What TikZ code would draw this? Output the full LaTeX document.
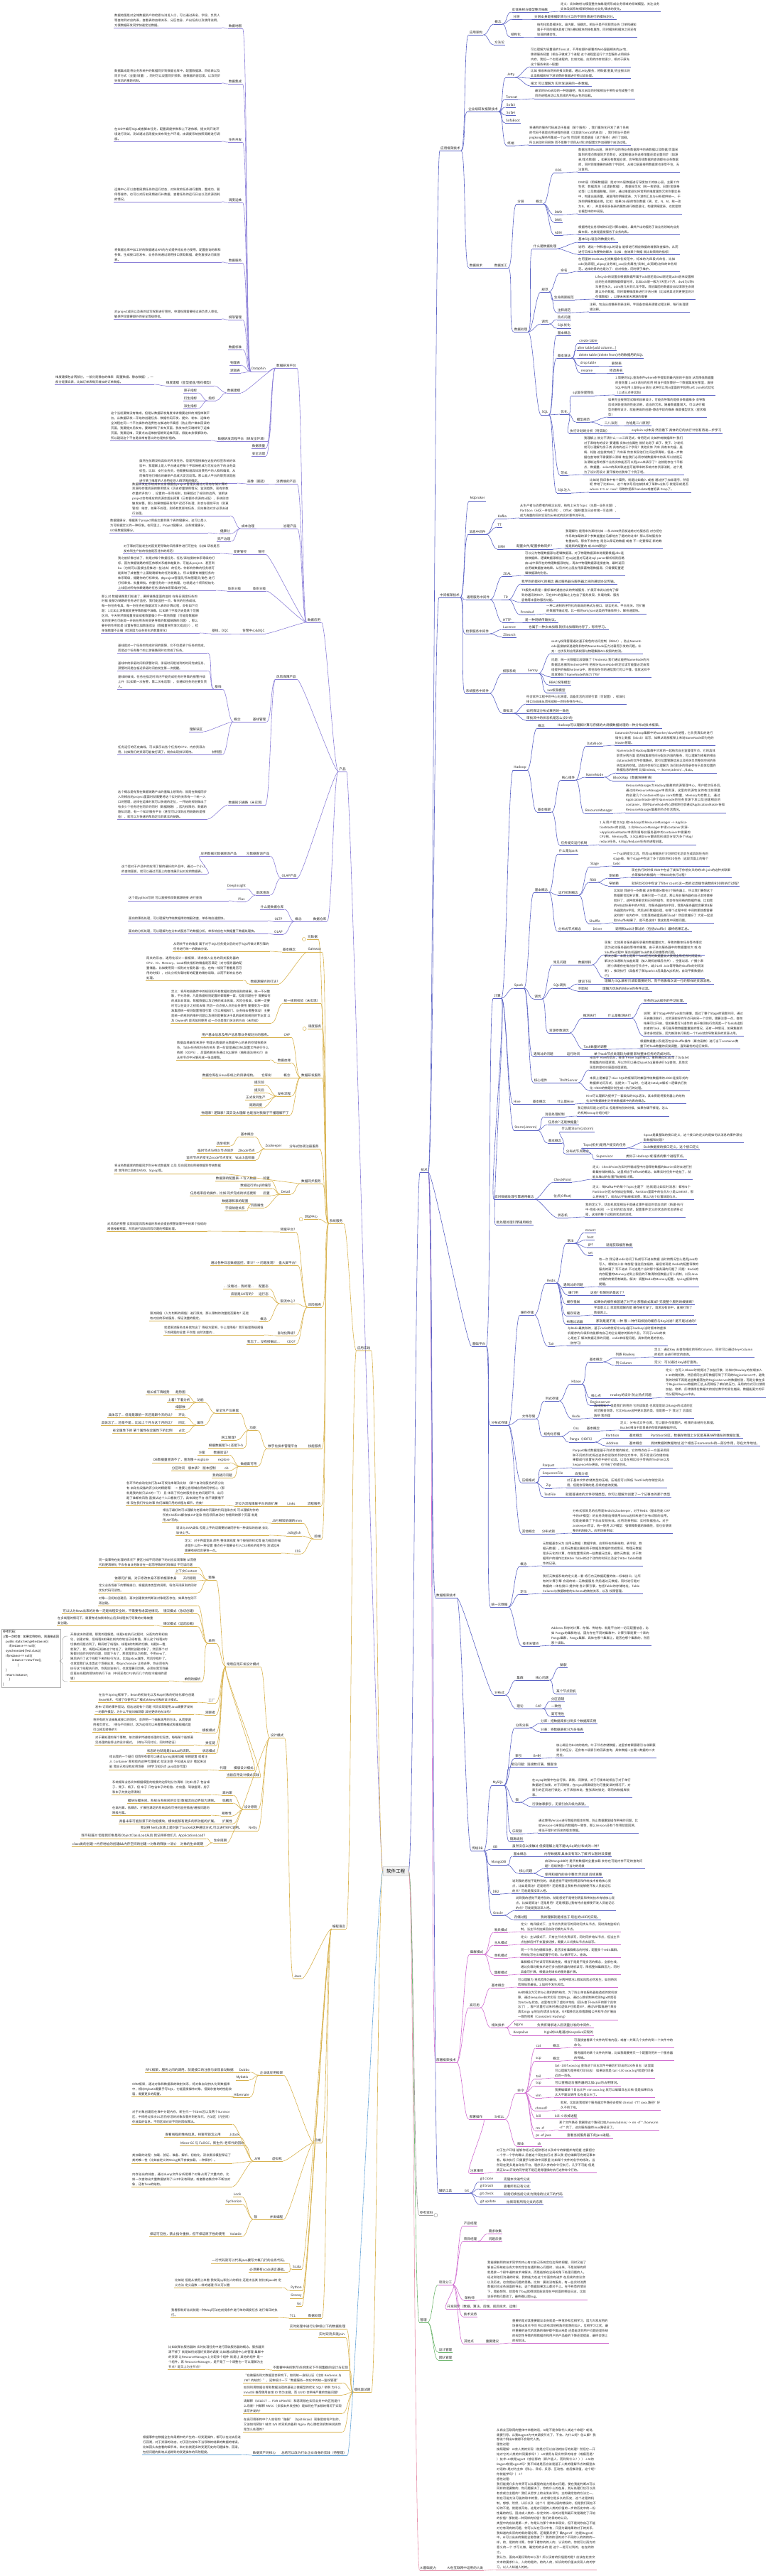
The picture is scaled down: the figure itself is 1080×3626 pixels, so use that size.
\documentclass[tikz,border=0pt]{standalone}
\usepackage{fontspec}
\setmainfont{Noto Sans CJK SC}
\XeTeXlinebreaklocale "zh"
\XeTeXlinebreakskip=0pt plus 0.4pt
\usetikzlibrary{calc}
\definecolor{tblue}{HTML}{5A62C4}
\definecolor{ppurple}{HTML}{8C80D8}
\definecolor{ygold}{HTML}{D8B24E}
\definecolor{dpink}{HTML}{CF6BCF}
\definecolor{mgreen}{HTML}{6DB56D}
\definecolor{arose}{HTML}{E58DA8}
\definecolor{rgray}{HTML}{9A9A9A}
\definecolor{lblue}{HTML}{6AA6D8}
\tikzset{
  lb/.style={font=\fontsize{4.6}{6}\selectfont, inner sep=1pt, anchor=south, text=black!85,
    append after command={(\tikzlastnode.south west) edge[draw=#1,line width=0.6pt] (\tikzlastnode.south east)}},
  lb/.default=tblue,
  pp/.style 2 args={lb=#1, anchor=south west, text width=#2, align=left, font=\fontsize{4.3}{6.9}\selectfont},
  rc/.style={draw=#1, line width=0.6pt, to path={.. controls ($(\tikztostart)+(7,0)$) and ($(\tikztotarget)+(-7,0)$) .. (\tikztotarget)}},
  lc/.style={draw=#1, line width=0.6pt, to path={.. controls ($(\tikztostart)+(-7,0)$) and ($(\tikztotarget)+(7,0)$) .. (\tikztotarget)}},
}
\begin{document}
\begin{tikzpicture}[x=1pt,y=-1pt]
\useasboundingbox (0,0) rectangle (1080,3626);
% centre
\node[draw=black!15, fill=black!6, font=\fontsize{6.5}{8}\selectfont, inner xsep=5pt, inner ysep=3.5pt] (C) at (557,2634) {软件工程};

% ===== right: 技术 =====
\node[lb] (T) at (597,1650) {技术};
\node[lb] (A0) at (634,212) {应用框架技术};
\node[lb] (A1) at (670,49) {应用架构};
\node[lb] (A11) at (701,34) {概念};
\node[lb] (A111) at (746,17) {实体映射与模型整合抽象};
\node[pp={tblue}{140pt}] (A111p) at (788,16) {定义：实体映射与模型整合抽象是将形成业务领域的领域模型，关注业务实体及其系统框架领域应对业务/需求的变化。};
\node[lb] (A112) at (727,27) {分层};
\node[lb,anchor=south west] (A112p) at (751,27) {分层本身是根据职责与分工的不同性质进行的模块划分。};
\node[lb] (A113) at (726,52) {结构化};
\node[pp={tblue}{140pt}] (A113p) at (755,52) {结构化就是模块化，高内聚、低耦合。相当于是不同职责业务 订单和通知 属于不同的模块具有订单/通知模块的独有属性，同时模块和模块之间还有较弱的耦合性。};
\node[lb] (A12) at (703,63) {方法论};
\node[lb] (A2) at (680,157) {企业级研发框架技术};
\node[lb] (A21) at (719,109) {Jetty};
\node[pp={tblue}{140pt}] (A21a) at (746,94) {可以理解为轻量级的Tomcat，不用在额外部署的Web容器相关的jar包，使得服务轻量（相当于做成了个进程 这个进程里运行个大型服务占用很多内存，我起一个也是进程的，比如功能、应用的内存就很少，相对于原先这个服务来说->轻量）};
\node[pp={tblue}{140pt}] (A21b) at (746,110) {比如 接收来自网关的报文数据，通过Jetty服务，将数据 重复/完全报文的此类数据影响下游消费的数据进行预过滤处理。};
\node[lb,anchor=south west] (A21c) at (746,121) {报文 可以理解为 实时发送来的一条数据。};
\node[lb] (A22) at (720,140) {Tomcat};
\node[pp={tblue}{140pt}] (A22p) at (752,139) {最早的Web启动的一种容器吧，每次启动的时候相当于带你去完成整个项目的进程启动以及后续的所有jar包的加载。};
\node[lb] (A23) at (719,151) {Sofa3};
\node[lb] (A24) at (719,162) {Sofa4};
\node[lb] (A25) at (722,173) {SofaBoot};
\node[lb] (A26) at (719,205) {终端};
\node[pp={tblue}{142pt}] (A26p) at (744,204) {将通用的服务代码启动于基座（某个服务），我们模块化开发了某个系统的代码不再是应用进程的创建（比如说Tomcat的启动），我们相当于是把jingkong服务所集成一个jar包 然后呢 就是基座（这个服务）进行了加载，所以启动时间很快 而不是整个项目从0到1的配置文件加载整个启动过程。};
\node[lb] (A3) at (670,377) {数据技术};
\node[lb] (A31) at (705,377) {数据加工};
\node[lb] (A311) at (733,287) {分层};
\node[lb] (A3111) at (759,287) {概念};
\node[lb] (A3a) at (786,243) {ODS};
\node[pp={tblue}{142pt}] (A3ap) at (813,242) {数据仓库的ods层，原封不动的将业务数据库中的表数据以及数据/页面采集到的埋点数据同步至数仓，这里根据业务选择增量还是全量同步（如源表/埋点数据）。如果没有数据仓库，会导致后续数据的查询都在业务数据库，同时领域重要的表数个字段时，从接口层直接用数据库也承受不住，无法复用。};
\node[lb] (A3b) at (786,302) {DWD};
\node[pp={tblue}{145pt}] (A3bp) at (813,301) {DWD层（明细数据层）是对ODS层数据进行深度加工的核心层，主要工作包括：数据清洗（过滤脏数据）、数据规范化（统一枚举值、日期/金额格式等）以及数据脱敏。同时，通过维度退化将常用的维度属性冗余到事实表中，构建出高质量、易复用的明细宽表，为下游的汇总与分析提供统一、干净的明细数据支撑。比如：如果Ods层的性别数据（男、女、N、M，统一改为N、M），并且将很多张表的属性进行维度退化，构建明细宽表，也就是数仓模型中的中间层。};
\node[lb] (A3c) at (786,313) {DWS};
\node[lb] (A3d) at (786,331) {ADM};
\node[pp={tblue}{142pt}] (A3dp) at (813,330) {根据特定业务领域的口径计算与编排，最终产出的服务于该业务领域的业务集市表，也就是直接服务于业务的表。};
\node[lb] (A312) at (733,467) {数据处理};
\node[lb] (Q1) at (767,350) {什么是数据处理};
\node[lb,anchor=south west] (Q1a) at (813,341) {基本SQL语言的数据分析。};
\node[pp={tblue}{142pt}] (Q1b) at (813,358) {说明：通过一种和普SQL的语言 能够进行相应数据的增删改查操作，从而进行日常工作要物的解决（比如：查询某个数据 就比较简易的指标）};
\node[lb] (Q2) at (767,411) {规范};
\node[lb] (N1) at (794,384) {命名};
\node[pp={tblue}{142pt}] (N1p) at (813,382) {在阿里的OneData主流数据命名规范中，标准的为四段式命名，比如ods(贴源层)\_alipay(业务域)\_xxx(业务属性/实体)\_di(周期)这样的命名规范。这样的目的也是为了：应对检查，同时便于维护。};
\node[lb] (N2) at (794,422) {生命周期规范};
\node[pp={tblue}{140pt}] (N2p) at (837,421) {Lifecycle的设置会根据数据所属于ods层还是dwd层还是adm层来设置相应的生命周期数据保留时间，比如ods层一般为7天至3个月，dwd为1到6年甚至永久，adm层几天到几年不等。目前集团的数据会自动清除生命周期以外的数据，同时需要维度表进行冷热分离（比如将其迁到更便宜的冷存储数据），以便未来某天溯源的需要};
\node[lb] (N3) at (794,440) {注释规范};
\node[pp={tblue}{140pt}] (N3p) at (829,439) {注释，包含从前整表到表注释，字段备会级表逻辑过程注释，每行处理逻辑注释。};
\node[lb] (Q3) at (767,456) {调优};
\node[lb] (O1) at (794,450) {热点问题};
\node[lb] (O2) at (794,462) {SQL优化};
\node[lb] (Q4) at (767,584) {SQL};
\node[lb] (S1) at (794,472) {基本概念};
\node[lb] (S2) at (794,504) {基本语法};
\node[lb] (S21) at (828,483) {create table};
\node[lb] (S22) at (840,493) {alter table[add column...]};
\node[lb] (S23) at (860,504) {delete table (delete from)内的数据用的SQL};
\node[lb] (S24) at (828,515) {drop table};
\node[lb,anchor=south west] (S24b) at (860,515) {删除表};
\node[lb] (S25) at (826,525) {rename};
\node[lb,anchor=south west] (S25b) at (857,525) {修改表名};
\node[lb] (S3) at (794,583) {优化};
\node[lb] (S31) at (821,557) {sql复杂度降低};
\node[pp={tblue}{140pt}] (S31p) at (865,556) {1.简便的SQL查询条件where条件提取到最内层的子查询 从而降低数据量的查询量 2.with语句的应用 相当于提前算好一个数据集放在那里，直接SQL中应用 3.复杂join语句 这种可以到in里面的字段用Left Join形式优化（上述三点待实践）};
\node[lb] (S32) at (821,594) {模型规范};
\node[pp={tblue}{138pt}] (S32p) at (855,587) {如果完全按照范式做相应表设计，可能会导致的是很多数据维多 会导致后续关联查询的性能消耗，适当的冗余。随着数据量增大，可以进行模型的重构设计，就能更高的创建+静态字段的维表 维度模型优化（星状模型）};
\node[lb] (S33) at (860,599) {二八法则};
\node[lb,anchor=south west] (S33b) at (880,599) {为啥是二八原则?};
\node[lb] (S34) at (830,610) {执行计划的分析（待实践）};
\node[lb,anchor=south west] (S34b) at (888,610) {explain sql本身 然后看下 具体的它的执行计划有待进一步学习};
\node[lb] (S4) at (794,669) {范式};
\node[pp={tblue}{140pt}] (S4p) at (821,668) {我理解上 就分不清什么一二三四范式，常用范式 比如传统数据库中 我们对于表结构的设计 要遵循 实体对应属性 就好比房子 桌子、凳子、沙发机 就可以理解为房子类 具有的这三个字段? 其他实体 汽车 具有车内座、座椅、轮胎 这些就构成了 汽车表 你会发现他们之间边界清晰，但进一步数据在查询就不需要那么清晰 有些我们必须存储数据库中的表 所以就是无法清晰边界的那个业务实体能否可以用json来表示了? 这就是存在个平衡点，数据量、select的表关联这些可能带来的系统内存资源消耗，这个是为了设计而设计 要平衡的点我举了个例子吧。};
\node[lb] (S5) at (794,694) {SQL注入};
\node[pp={tblue}{142pt}] (S5p) at (829,693) {比如说 我印象中有个案例，就是比如输入 或者 通过拼了加非理号，然后呢 传给了比如sss，这个有拼号后在被拼成了某种sql执行 就是形成是否 where 1=1 or <xxx? 导致你把表Translate或者把表 Drop了。};

\foreach \a/\b in {T/A0,A0/A1,A1/A11,A11/A111,A111/A111p,A11/A112,A112/A112p,A11/A113,A113/A113p,A1/A12,
  A0/A2,A2/A21,A21/A21a,A21/A21b,A21/A21c,A2/A22,A22/A22p,A2/A23,A2/A24,A2/A25,A2/A26,A26/A26p,
  A0/A3,A3/A31,A31/A311,A311/A3111,A3111/A3a,A3a/A3ap,A3111/A3b,A3b/A3bp,A3111/A3c,A3111/A3d,A3d/A3dp,
  A31/A312,A312/Q1,Q1/Q1a,Q1/Q1b,A312/Q2,Q2/N1,N1/N1p,Q2/N2,N2/N2p,Q2/N3,N3/N3p,A312/Q3,Q3/O1,Q3/O2,
  A312/Q4,Q4/S1,Q4/S2,S2/S21,S2/S22,S2/S23,S2/S24,S24/S24b,S2/S25,S25/S25b,Q4/S3,S3/S31,S31/S31p,S3/S32,S32/S32p,S32/S33,S33/S33b,
  S3/S34,S34/S34b,Q4/S4,S4/S4p,Q4/S5,S5/S5p}
  \draw[rc=tblue] (\a.south east) to (\b.south west);

% 中间框架技术
\node[lb] (W) at (633,841) {中间框架技术};
\node[lb] (W1) at (672,705) {Mqbroker};
\node[lb] (W2) at (672,752) {消息中间件};
\node[lb] (W21) at (707,730) {Kafka};
\node[pp={tblue}{140pt}] (W21p) at (731,729) {从生产者与消费者的概念出发，结构上分为Topic（主题---业务主题）、Partition（分区---并发队列）、Offset（偏移量及日志存储---可追溯），成为海量的同时实现为分布式的实时事件流平台。};
\node[lb] (W22) at (703,742) {TT};
\node[lb] (W23) at (706,773) {DRM};
\node[lb] (W231) at (752,773) {配置文件/配置参数同步?};
\node[pp={tblue}{136pt}] (W231p) at (795,772) {我理解为 是用来为某时比如 一条JSON然后发送给对方服务后 对方把它作系统加载的某个参数能量立马都地方了是的的过来? 那么系统服务会有重启吗，那会不会存在 是怎么保证的数据 或者 不一定要保证 新的数据是新的配置的 或JSON那些?};
\node[lb] (W3) at (673,844) {通用服务中间件};
\node[lb] (W31) at (714,811) {ZDAL};
\node[pp={tblue}{140pt}] (W31p) at (738,810) {可以分为物理数据源与逻辑数据源。对于物理数据源来说需要根据jdbc连接数据库。逻辑数据源相当于 在sql这里对无通过sql parser解析规则后路由sql中表所在的物理数据源地址，再去中物理数据源连接查询，最终返回应用端数据查询结果。从另外的上层应用屏蔽物理数据源，只需要配置逻辑数据源的别名。};
\node[lb] (W32) at (712,844) {TR};
\node[lb,anchor=south west] (W32a) at (733,822) {我学到的是RPC的概念 通过服务器与服务器之间的通信协议传输。};
\node[pp={tblue}{138pt}] (W32b) at (733,848) {TR服务本质是一套标准的通信协议的传输服务，扩展开来说以前有了解到的通讯的RCP，又在RPC的基础之上包含了服务发现、负载均衡、服务容错等丰富的服务功能。};
\node[lb] (W321) at (742,865) {Protobuf};
\node[pp={tblue}{140pt}] (W321p) at (768,864) {一种二进制的序列化的高效的格式与接口，语言无关、平台无关、可扩展的数据传输过程，比一般的xml/json这类的传输体积小、解析速度快。};
\node[lb] (W33) at (714,876) {HTTP};
\node[lb,anchor=south west] (W33p) at (738,876) {是一种网络传输协议。};
\node[lb] (W4) at (672,892) {检索服务中间件};
\node[lb] (W41) at (717,886) {Lucence};
\node[lb,anchor=south west] (W41p) at (743,886) {也属于一种文本加载 就好比加载到内存了，有待学习。};
\node[lb] (W42) at (717,897) {ZSearch};
\node[lb] (W5) at (672,976) {系统服务中间件};
\node[lb] (W51) at (717,948) {权限系统};
\node[lb] (W511) at (750,948) {Sentry};
\node[pp={tblue}{128pt}] (W511a) at (775,920) {sentry权限管理通过基于角色的访问控制（RBAC），防止NameNode直接被穿透避免和你的NameNode压力过载而引发的问题。补充：也涉及到应用表权限与物理集群ACL权限的检测。};
\node[pp={tblue}{140pt}] (W511b) at (775,953) {问题：统一元数据比较聪敏了个Antmeta 我们通过能把NameNode的元数据信息搬到Antmeta中吗 把部分NameNode的定位读写能量必定由我组提供的抽取Antmeta中，那他现在你的通信我们可以不懂，但就这样不是就降低了NameNode的压力了吗?};
\node[lb] (W512) at (788,964) {RBAC权限模型};
\node[lb] (W513) at (783,975) {xxx权限模型};
\node[lb] (W52) at (715,1004) {审批流};
\node[pp={tblue}{140pt}] (W52a) at (740,991) {符合软件工程中的中心化原理，具备灵活的流转引擎（可配置）、标准化接口与自由从而形成统一的任务待办中心。};
\node[lb,anchor=south west] (W52b) at (740,1004) {如何保证分布式事务的一致性};
\node[lb,anchor=south west] (W52c) at (740,1014) {审批流中的状态机是怎么设计的};
\foreach \a/\b in {T/W,W/W1,W/W2,W2/W21,W21/W21p,W2/W22,W2/W23,W23/W231,W231/W231p,W/W3,W3/W31,W31/W31p,W3/W32,W32/W32a,W32/W32b,W32/W321,W321/W321p,
  W3/W33,W33/W33p,W/W4,W4/W41,W41/W41p,W4/W42,W/W5,W5/W51,W51/W511,W511/W511a,W511/W511b,W511/W512,W511/W513,W5/W52,W52/W52a,W52/W52b,W52/W52c}
  \draw[rc=tblue] (\a.south east) to (\b.south west);

% 基础平台
\node[lb] (B) at (674,1895) {基础平台};
\node[lb] (B1) at (700,1405) {计算};
\node[lb] (H) at (732,1084) {Hadoop};
\node[lb] (H1) at (762,1025) {概念};
\node[lb,anchor=south west] (H1p) at (784,1025) {Hadoop可以理解计算与存储的大规模数据处理的一种分布式技术框架。};
\node[lb] (H2) at (766,1143) {基本框架};
\node[lb] (H21) at (800,1098) {核心组件};
\node[lb] (H211) at (837,1050) {DataNode};
\node[pp={tblue}{140pt}] (H211p) at (865,1049) {Datanode为Hadoop集群中的worker/slave的进程，它负责真实的进行储存上数据（block）读写，如果从局部框架上来说NameNode即为他的Master管理。};
\node[lb] (H212) at (837,1094) {NameNode};
\node[pp={tblue}{140pt}] (H212p) at (867,1088) {Namenode为Hadoop集群中大家的一起结合自主监督理节点，它的具体职责分两方面 是否搞集群空间分配总内容的服务，可以理解为搭载的相当datanode的文件存储路径，索引位置管路信息以及相关负责整体空间的系统信息的存储。动态内存规可以理解为 访问较多的目录存在于具体位置的数据信息的映射 比如index\&, -> /home/admin/.../data。};
\node[lb] (H2121) at (892,1099) {BlockMap（数据块映射表）};
\node[lb] (H213) at (843,1145) {ResourceManager};
\node[pp={tblue}{140pt}] (H213p) at (880,1144) {ResourceManager为Hadoop集群的资源管理中心。用户提交任务后，通过向ResourceManager申请资源，这里的资源包含的有比如限量的创建几个container的cpu core的数量，Memory内存数上，通过ApplicationMaster进行Namenode的任务资源下发以及创建相应的container，同时NameNode的心跳机制也会通过ApplicationMaster告知ResourceManager集群的节点存活情况。};
\node[lb] (H22) at (808,1190) {任务提交运行机制};
\node[pp={tblue}{135pt}] (H22p) at (843,1189) {1.从用户提交SQL给Hadoop的ResourceManager --> ApplicationMaster的创建。2.向ResourceManager申请container资源-->ApplicationMaster申请到调每台服务器中的container中需要的CPU核、Memory等。3.SQL被Driver翻译后形成后分发为多个Map/reduce任务。4.Map/Reducer任务的进程创建。};
\node[lb] (Sp) at (730,1391) {Spark};
\node[lb] (Sp1) at (762,1256) {基本概念};
\node[lb] (Sp11) at (800,1202) {什么是Spark};
\node[lb] (Sp12) at (800,1260) {运行机制概念};
\node[lb] (Sp121) at (837,1220) {Stage};
\node[pp={tblue}{135pt}] (Sp121p) at (862,1219) {一个sql的提交之后，然后sql根据执行计划的优化后会生成具体任务的stage级，每个stage中包含了多个具体的RDD任务（这段页面上的每个task）};
\node[lb] (Sp122) at (835,1242) {RDD};
\node[lb] (Sp1221) at (864,1236) {宽依赖};
\node[pp={tblue}{140pt}] (Sp1221p) at (888,1235) {现在执行的时候 RDD中包含了类似于你想交叉的的left join的这种关联聚合等操作的数据的 一种RDD的执行过程?};
\node[lb] (Sp1222) at (864,1247) {窄依赖};
\node[lb,anchor=south west] (Sp1222p) at (888,1247) {就好比RDD中包含了filter count 这一类的过滤操作函数的RDD的执行过程?};
\node[lb] (Sp123) at (837,1300) {Shuffle};
\node[pp={tblue}{140pt}] (Sp123p) at (863,1299) {比如说 我进行一份数据 这份数据分散在3个服务器上，所以我们要想这个数据聚合起来计算，如果只是一个过滤，那么每台服务器在自己本地做掉就好了，这种就将聚合和已经的操作，就会存在网络的数据传输，比如我的A在这份表中的A字段，你服务器B有B字段，我那A服务器就会要求B服务器我的A字段，然后进行数据处理，在哪个过程中呢 中间的那就都需要这样的? 在内存中，它就落地磁盘再进行load? 然后就搬好了 大家一起读取Shuffle结果了，是不是这样? 我这就是中间都问题。};
\node[lb] (Sp13) at (802,1311) {分布式节点概念};
\node[lb] (Sp131) at (841,1311) {Driver};
\node[lb,anchor=south west] (Sp131p) at (865,1311) {调用和task计算过的（包括shuffle）最终结果汇总。};
\node[lb] (B11) at (757,1406) {调优};
\node[lb] (Tq1) at (788,1358) {常见问题};
\node[lb] (Tq11) at (823,1358) {数据倾斜};
\node[pp={tblue}{140pt}] (Tq11a) at (850,1344) {现象：比如某台服务器所承载的数据量较大，导致的整体任务等待事实因为这台服务器在等待的缓慢。由于某台服务器中的数据量较大 或 在Shuffle过程中 某台机器的Task的执行较慢等的问题。};
\node[pp={tblue}{140pt}] (Tq11b) at (850,1377) {解决方案：本质上是某个Task任务的数据量较大使得全局任务时间延长。解决方法通常为加盐处理（加入随机前缀后合并），空值过滤、广播小表（将小表缓存在每台执行节点中，减少Left Join等导致的shuffle的时间消耗）、推测执行（具备析了解Spark3.0后具备AQE机制，自动平衡数据执行）};
\node[lb] (Tq2) at (788,1391) {SQL调优};
\node[lb] (Tq21) at (823,1385) {谓词下压};
\node[lb,anchor=south west] (Tq21p) at (850,1385) {理解为 SQL解析只读取需要的列，而不再像每次读一行的那样的资源消耗。};
\node[lb] (Tq22) at (821,1395) {列剪枝};
\node[lb,anchor=south west] (Tq22p) at (847,1395) {理解为优先的Where的条件过滤。};
\node[lb] (B111) at (787,1454) {资源参数调优};
\node[lb] (B112) at (830,1433) {推测执行};
\node[lb] (B113) at (872,1433) {什么是推测执行};
\node[pp={tblue}{140pt}] (B113p) at (905,1458) {说明：某个Stage中的Task较为缓慢，超过了整个Stage的调度时间，通过开启推测执行，对资源较好的节点开启另一个实例。需要注意一点，查询结果可以开启，但如果是写入操作的 由于推测执行会再起一个Task去追赶前者的Task，将可能导致数据量重复的情况。还有一种情况，如果集群资源本身就紧张，因为推测执行新起一个Task就会导致更多的资源占用。};
\node[lb,anchor=south west] (B113q) at (905,1412) {任务的task级别的手动处理。};
\node[lb] (B114) at (838,1477) {Task数量的调整};
\node[pp={tblue}{140pt}] (B114p) at (900,1476) {根据数据量以及是否包含Shuffle操作（聚合函数）进行当下container数量下的Task数量的反复调整，直到最优的运行效率。};
\node[lb] (B12) at (765,1487) {遇到过的问题};
\node[lb] (B121) at (807,1487) {运行时间};
\node[lb,anchor=south west] (B121p) at (835,1487) {单个task节点处理较为缓慢 影响整体任务的完成时间。};
\node[lb] (B13) at (761,1524) {核心组件};
\node[lb] (B131) at (800,1524) {ThriftServer};
\node[pp={tblue}{140pt}] (B131a) at (829,1506) {相当于 Hive的后台，接承下Hive Sql的接口，重新通过Scala写了DataSet数据集的处理逻辑，所以你可以通过SparkSql直接进行Sql查询，具体实现是的是RDD层面处理逻辑。};
\node[pp={tblue}{140pt}] (B131b) at (829,1535) {本质上是兼容了Hive SQL的框架同时兼容传统数据库的JDBC连接形式的数据库访问形式，当提交一下sql时，它通过Catalyst解析->逻辑执行优化->RDD的物理计划生成->执行的过程。};
\node[lb] (B14) at (728,1554) {Hive};
\node[lb] (B141) at (759,1554) {基本概念};
\node[lb] (B142) at (796,1554) {什么是Hive};
\node[pp={tblue}{140pt}] (B142p) at (824,1553) {Hive可以理解为提供了一套类似的SQL语法，其本质是将服务器上的结构化文件数据映射为传统数据库中的表的概念。};
\node[lb] (B15) at (740,1591) {Storm(Jstorm)};
\node[lb] (B151) at (781,1572) {消息处理机制};
\node[pp={tblue}{128pt}] (B151p) at (812,1571) {我记得实际是之前可以 但是哪有别的时候，如果你确不够是，怎么的机制Group分组分组?};
\node[lb] (B152) at (793,1583) {任务会? 还是数据量?};
\node[lb] (B153) at (781,1609) {基本概念};
\node[lb] (B1531) at (813,1593) {什么是Storm(Jstorm)};
\node[lb] (B1532) at (813,1624) {分布式节点概念};
\node[lb] (B1533) at (851,1616) {Topo(拓扑)是用户提交的任务};
\node[pp={tblue}{140pt}] (B1533a) at (905,1608) {Spout是最基础的接口定义，这个接口的定义的是如何从消息的事件源拉取数据和处理?};
\node[lb,anchor=south west] (B1533b) at (905,1618) {Bolt数据接的接口定义，这个接口定义};
\node[lb] (B1534) at (851,1632) {Supervisor};
\node[lb,anchor=south west] (B1534p) at (880,1632) {类似于 Hadoop 或 服务的集个进程节点。};
\node[lb] (B16) at (724,1688) {实时数据处理引擎通用概念};
\node[lb] (B161) at (792,1664) {CheckPoint};
\node[pp={tblue}{140pt}] (B161p) at (833,1660) {定义：CheckPoint为实时传输过程中内容保存数据的Barrier实时去进行拦截截存储的概念。这里相当于Offset的概念，如果实时任务中途挂了，就能从做过的位置开始继续计算。};
\node[lb] (B162) at (792,1688) {位点(Offset)};
\node[pp={tblue}{142pt}] (B162p) at (833,1688) {定义：每Kafka中的每个Topic主题下（也就是比如实时消息）都有N个Partition分区去存放这些数据，Partition里面中的位点大小是1234567，那么将来挂了，就会从7开始继续消费，那么7这个位置就是位点。};
\node[lb] (B163) at (792,1714) {状态机};
\node[pp={tblue}{140pt}] (B163p) at (823,1713) {我的定义下，状态机就是相当于是通过事件驱动的状态流转（新建-执行中-完成-关闭）--> 实时的状态流转，配置事件定义的状态的状态转移过程，这样的整个过程的状态的流转。};
\node[lb] (B17) at (724,1724) {批处理处理引擎通用概念};
\node[lb] (B2) at (703,2006) {分布式存储};
\node[lb] (B21) at (742,1851) {缓存存储};
\node[lb] (B211) at (776,1806) {Redis};
\node[lb] (B2111) at (803,1750) {语法};
\node[lb] (Rz) at (831,1735) {zcount};
\node[lb] (Rh) at (831,1745) {hset};
\node[lb] (Rg) at (831,1756) {get};
\node[lb,anchor=south west] (Rgp) at (852,1756) {就是获取缓存数据};
\node[lb] (Rs) at (831,1767) {set};
\node[lb] (B2112) at (807,1812) {遇到过的问题};
\node[pp={tblue}{140pt}] (B2112p) at (842,1811) {有一次 我记得redis访问了私成写不进去数据 当时的情况怎么是用java的写入，哪知加入非 单前程 值往后加插的，最后发现是 Redis的配置导致的服务的满了 写不进去 不过这是个当时那个服务满的问题了 问题：Redis的内存配置的Memory达到上限后的不做清除但数据止写入机制，以及Java对缓存的使用有缺陷。解决：调整Redis的Memory配置，Spring框架中有提醒。};
\node[lb] (B2113) at (807,1823) {缓门用};
\node[lb,anchor=south west] (B2113p) at (830,1823) {这些? 有限别的是这个?};
\node[lb] (B2114) at (807,1836) {缓存雪崩};
\node[lb,anchor=south west] (B2114p) at (835,1836) {如果你的缓存被普通了对不对 那雪崩式衰减? 究竟整个服务的缓缓断?};
\node[lb] (B2115) at (807,1852) {缓存穿透};
\node[pp={tblue}{140pt}] (B2115p) at (835,1851) {字面意义上 就是我理解的是 缓存被打穿了，请求没有命中，直接打到了数据库上。};
\node[lb] (B2116) at (809,1864) {布隆过滤器};
\node[lb,anchor=south west] (B2116p) at (838,1864) {那就是是不是 一种 哦 一种代码校验的缓存与Key过滤? 是不是过滤的?};
\node[lb] (B212) at (776,1895) {Tair};
\node[pp={tblue}{140pt}] (B212p) at (798,1894) {与Redis最类似的，基于redis的就好比odps基于hadoop当时版本的虚拟机缓存的升级和功能都有自己的企业缓存的新的产品，不同于redis的核心是在于 解决数据迁移的问题，redis单线程问题，具体用的是的优化。（待学习）};
\node[lb] (B22) at (744,1997) {文件存储};
\node[lb] (B221) at (777,1972) {列式存储};
\node[lb] (B2211) at (811,1948) {Hbase};
\node[lb] (Hb1) at (839,1917) {基本概念};
\node[lb] (Hb11) at (880,1911) {列族 Rowkey};
\node[pp={tblue}{140pt}] (Hb11p) at (920,1910) {定义：通过Key 去查询相应的所有Column，同时可以通过Key+Column的组合 去进行特定的查询。};
\node[lb] (Hb12) at (878,1922) {列 Column};
\node[lb,anchor=south west] (Hb12p) at (920,1922) {定义：可以通过 key进行查询。};
\node[lb] (Hb2) at (839,1968) {核心点};
\node[lb] (Hb21) at (888,1968) {rowkey的设计 防止热点问题};
\node[pp={tblue}{140pt}] (Hb21p) at (936,1967) {定义：在写入Hbase时就提过了加盐打散，比如对Rowkey的前缀加入0-10的随机数，然后将同主读写数据写到了不同的RegionServer中，避免我的时候不再是这些数据落在的RegionServer的数据检验，而是分散在多个RegionServer数据的汇总,从而降低了单机的压力。采用的方式可以使用加盐、哈希、反转使得位数最大的前位数字的变化越高，数据能更大的平均分配到Region中去。};
\node[lb] (Hb3) at (845,1978) {Regionserver};
\node[lb] (B2212) at (811,1997) {Kudu};
\node[pp={tblue}{140pt}] (B2212p) at (835,1996) {具体我知了 但是我们的用的 它的读取是 也就是是说以Range的过滤的区间范围查询等，它比Hbase这种更丰富的类，但是那一下 我记了 后面实践吧 我的理};
\node[lb] (B222) at (777,2022) {结构化存储};
\node[lb] (B2221) at (811,2014) {Oss};
\node[lb] (B2221a) at (835,2014) {基本概念};
\node[pp={tblue}{140pt}] (B2221p) at (872,2013) {定义：分布式文件仓库，可以额外存储图片、视频的非结构化数据，Bucket相当于是目录的存储的最基础空间。};
\node[lb] (B2222) at (819,2030) {Pangu（HDFS）};
\node[lb] (Pg1) at (862,2024) {Partition};
\node[lb] (Pg1a) at (895,2024) {基本概念};
\node[lb,anchor=south west] (Pg1p) at (915,2024) {Partition分区，数据在物理上分区是某某块存储在的数据位置。};
\node[lb] (Pg2) at (862,2035) {Address};
\node[lb] (Pg2a) at (895,2035) {基本概念};
\node[lb,anchor=south west] (Pg2p) at (915,2035) {具体数据的数据地址 这个相当于namenode的一部分作用，存在文件地址。};
\node[lb] (B23) at (744,2087) {压缩格式};
\node[lb] (Cz1) at (772,2067) {Parquet};
\node[pp={tblue}{140pt}] (Cz1p) at (805,2066) {Parquet格式数据是基于列式存储的格式，它的特点在于一方面采用同种不同的列式将这这条存读取的列存在文件中，而不是读行存储的结果都成行放置在内存中进行过滤。以及在相比较于传统的TextFile以及SequenceFile更高，也节省了存储空间。};
\node[lb] (Cz2) at (778,2078) {SequenceFile};
\node[lb,anchor=south west] (Cz2p) at (808,2078) {自我介绍};
\node[lb] (Cz3) at (772,2095) {Zip};
\node[pp={tblue}{140pt}] (Cz3p) at (797,2094) {对于基本文件存储类型的压缩，压缩后可以降低 TextFile的存储空间占用，但是会导致的是 后续的查询变慢。};
\node[lb] (Cz4) at (774,2107) {TextFile};
\node[lb,anchor=south west] (Cz4p) at (795,2107) {就是普通本的文件存储类型，你可以理解为创建了一个记事本的那个类型};
\node[lb] (B24) at (744,2159) {其他概念};
\node[lb] (B241) at (772,2159) {分布式锁};
\node[pp={tblue}{140pt}] (B241p) at (805,2158) {分布式锁常见的应用是Redis与Zookeeper，对于Redis（基本性能 CAP中的AP模型）的业务场景选择使用Setnx这样来进行分布式锁的应用，但是能确保了下会出现锁失效。应用场景例如：实时数据抢占。对于zookeeper而言，统一使用 ZCP模型：强保障数据的准确性，但也会使调整的机制能力。应用场景例如：};
\node[lb] (B25) at (703,2262) {统一元数据};
\node[lb] (B251) at (737,2205) {概念};
\node[pp={tblue}{140pt}] (B251p) at (763,2204) {元数据基本分为 应用元数据（数据字典、应用所在的表结构、表字段、数据元数据）。应用元数据主要应用于数据及数据的完成情况，物理元数据是多元化的计算，存储位置情况的一些数据元信息。操作元数据，对于数据用户的操作比如Alter Table的过个动作的时间以及这个Alter Table的操作的记录。};
\node[lb] (B252) at (737,2244) {定位};
\node[pp={tblue}{140pt}] (B252p) at (763,2243) {我们元数据系统的定义是一套 将行内元数据配置的统一标准接口，让所有的计算引擎 合适的统一元数据服务 然后通过元数据，同时进行是对数据的一体化接口 提供给 各计算引擎，包括Table的存储地址，Table Column与数据映射的Schema的映射关系，以及 权限管理。};
\node[lb] (B253) at (747,2317) {技术关键点};
\node[pp={tblue}{140pt}] (B253p) at (775,2316) {Address 和存的计算、存储、传结构、就是平台的一切元配置信息，比如 Pangu的集群地址，因为存在不同的集群中，计算引擎是要一个表的Pangu集群，Pangu集群、具体在哪个集群上，是否在哪个集群的，然后那个读取。};

\foreach \a/\b in {T/B,B/B1,B1/H,H/H1,H1/H1p,H/H2,H2/H21,H21/H211,H211/H211p,H21/H212,H212/H212p,H212/H2121,H21/H213,H213/H213p,H2/H22,H22/H22p,
  B1/Sp,Sp/Sp1,Sp1/Sp11,Sp1/Sp12,Sp12/Sp121,Sp121/Sp121p,Sp12/Sp122,Sp122/Sp1221,Sp1221/Sp1221p,Sp122/Sp1222,Sp1222/Sp1222p,Sp12/Sp123,Sp123/Sp123p,
  Sp1/Sp13,Sp13/Sp131,Sp131/Sp131p,Sp/B11,B11/Tq1,Tq1/Tq11,Tq11/Tq11a,Tq11/Tq11b,B11/Tq2,Tq2/Tq21,Tq21/Tq21p,Tq2/Tq22,Tq22/Tq22p,
  B11/B111,B111/B112,B112/B113,B113/B113p,B113/B113q,B111/B114,B114/B114p,Sp/B12,B12/B121,B121/B121p,
  Sp/B13,B13/B131,B131/B131a,B131/B131b,B1/B14,B14/B141,B141/B142,B142/B142p,B1/B15,B15/B151,B151/B151p,B15/B152,B15/B153,B153/B1531,B153/B1532,
  B1532/B1533,B1533/B1533a,B1533/B1533b,B1532/B1534,B1534/B1534p,B1/B16,B16/B161,B161/B161p,B16/B162,B162/B162p,B16/B163,B163/B163p,B1/B17,
  B/B2,B2/B21,B21/B211,B211/B2111,B2111/Rz,B2111/Rh,B2111/Rg,Rg/Rgp,B2111/Rs,B211/B2112,B2112/B2112p,B211/B2113,B2113/B2113p,B211/B2114,B2114/B2114p,
  B211/B2115,B2115/B2115p,B211/B2116,B2116/B2116p,B21/B212,B212/B212p,B2/B22,B22/B221,B221/B2211,B2211/Hb1,Hb1/Hb11,Hb11/Hb11p,Hb1/Hb12,Hb12/Hb12p,
  B2211/Hb2,Hb2/Hb21,Hb21/Hb21p,B2211/Hb3,B221/B2212,B2212/B2212p,B22/B222,B222/B2221,B2221/B2221a,B2221a/B2221p,B222/B2222,B2222/Pg1,Pg1/Pg1a,Pg1a/Pg1p,
  B2222/Pg2,Pg2/Pg2a,Pg2a/Pg2p,B2/B23,B23/Cz1,Cz1/Cz1p,B23/Cz2,Cz2/Cz2p,B23/Cz3,Cz3/Cz3p,B23/Cz4,Cz4/Cz4p,B2/B24,B24/B241,B241/B241p,
  B/B25,B25/B251,B251/B251p,B25/B252,B252/B252p,B25/B253,B253/B253p}
  \draw[rc=tblue] (\a.south east) to (\b.south west);

% 数据库
\node[lb] (D) at (628,2249) {数据框架技术};
\node[lb] (D1) at (703,2386) {分布式};
\node[lb] (D11) at (732,2365) {集群};
\node[lb] (D111) at (763,2365) {核心问题};
\node[lb] (D1111) at (793,2347) {脑裂};
\node[lb] (D1112) at (797,2384) {某个节点宕机};
\node[lb] (D12) at (732,2405) {理论};
\node[lb] (D121) at (758,2405) {CAP};
\node[lb] (D1211) at (785,2395) {分区容错};
\node[lb] (D1212) at (783,2405) {一致性};
\node[lb] (D1213) at (785,2416) {高可用性};
\node[lb] (D2) at (672,2605) {传统DB};
\node[lb] (D21) at (701,2513) {MySQL};
\node[lb] (D211) at (735,2432) {分库分表};
\node[lb,anchor=south west] (D211a) at (760,2426) {分库：把数据库拆分到多个数据库实例};
\node[lb,anchor=south west] (D211b) at (760,2438) {分表：将数据表拆分为多张表};
\node[lb] (D212) at (730,2475) {索引};
\node[lb] (D2121) at (756,2475) {B+树};
\node[pp={tblue}{140pt}] (D2121p) at (782,2474) {核心概念为B+树的结构，叶子节点存储数据，这里会有聚簇索引与非聚簇索引的区分，还会有二级索引的回表查询，具体数据->主键->数据的二次定位。};
\node[lb,anchor=south west] (D213) at (718,2487) {常见问题：连接数打满、慢查询};
\node[lb] (D214) at (728,2537) {锁};
\node[pp={tblue}{140pt}] (D214a) at (748,2530) {在mysql的锁中包含行锁、表锁、间隙锁，对于行锁来说相当于对于单行数据进行加锁，对于间隙锁，在mysql隔离级别为可重复读的情况下，对索引的区间进行锁定。对于表锁来说，整张表的锁定，等同的数据库锁表。};
\node[lb,anchor=south west] (D214b) at (748,2543) {行锁依赖索引，无索引会升级为表锁。};
\node[lb] (D215) at (728,2581) {乐观锁};
\node[pp={tblue}{140pt}] (D215p) at (757,2580) {通过使用Version进行数据的版本控制，防止数据重复操作带来的问题，比如Version+1来保证的数据的一致性，那么Version还有个作用就是回溯，相当于是针对历史的版本数据。};
\node[lb] (D216) at (727,2592) {隔离级别};
\node[lb] (D22) at (697,2603) {OB};
\node[lb,anchor=south west] (D22p) at (720,2603) {虽然没怎么接触过 但按理解上是不是MySql的分布式的一种?};
\node[lb] (D23) at (702,2625) {MongoDB};
\node[lb] (D231) at (732,2613) {基本概念};
\node[lb,anchor=south west] (D231p) at (765,2613) {内存数据库 具体没有深入了解 所以暂时没掌握};
\node[lb] (D232) at (740,2637) {核心问题};
\node[pp={tblue}{140pt}] (D232a) at (766,2630) {启动MongoDB时 是所有数据的全量加载 会存在可能内存不足的查询问题? 后续熟悉一下当时的场景};
\node[lb,anchor=south west] (D232b) at (766,2642) {使用和操作的命令整合 然后请 后续再整};
\node[lb] (D24) at (698,2666) {DB2};
\node[pp={tblue}{140pt}] (D24p) at (720,2665) {说到我的感觉不是特别的，就是感觉不是特别明显和传统技术有啥核心亮点，比如是简洁? 还是易用? 还是哪里让我有特点能够使开发人员能记忆的点? 可能是我没深入吧。};
\node[lb] (D25) at (701,2696) {Oracle};
\node[pp={tblue}{140pt}] (D25p) at (725,2689) {说到我的感觉不是特别的，就是感觉不是特别明显和传统技术有啥核心亮点，比如是简洁? 还是易用? 还是哪里让我有特点能够使开发人员能记忆的点? 可能是我没深入吧。};
\node[lb] (D251) at (733,2702) {存储过程};
\node[lb,anchor=south west] (D251p) at (760,2702) {我的理解就是相当于 现在的UDF的实现。};
\foreach \a/\b in {T/D,D/D1,D1/D11,D11/D111,D111/D1111,D111/D1112,D1/D12,D12/D121,D121/D1211,D121/D1212,D121/D1213,
  D/D2,D2/D21,D21/D211,D211/D211a,D211/D211b,D21/D212,D212/D2121,D2121/D2121p,D21/D213,D21/D214,D214/D214a,D214/D214b,D21/D215,D215/D215p,D21/D216,
  D2/D22,D22/D22p,D2/D23,D23/D231,D231/D231p,D23/D232,D232/D232a,D232/D232b,D2/D24,D24/D24p,D2/D25,D25/D25p,D25/D251,D251/D251p}
  \draw[rc=tblue] (\a.south east) to (\b.south west);

% 部署框架技术
\node[lb=dpink] (K) at (628,2903) {部署框架技术};
\node[lb=dpink] (K1) at (671,2751) {集群模式};
\node[lb=dpink] (K11) at (705,2720) {哨兵模式};
\node[pp={dpink}{140pt}] (K11p) at (732,2719) {定义：哨兵模式下，主节点负责读写的同时同步从节点，同时具有监听机制，当主节点挂掉后自动切换为从节点。};
\node[lb=dpink] (K12) at (705,2738) {主从模式};
\node[pp={dpink}{140pt}] (K12p) at (732,2737) {定义：主从模式下，只有主节点负责读写，同时同步给从节点，但当主节点挂掉后并不会直接切换，需要人工切换从节点去读写。};
\node[lb=dpink] (K13) at (705,2756) {单机模式};
\node[pp={dpink}{140pt}] (K13p) at (732,2755) {同一个节点在缓解改善，是否没有集群概念的时候，配置多个redis集群，将地址写在文档配置于代码，for循环写入，查询。};
\node[lb=dpink] (K14) at (705,2780) {集群模式};
\node[pp={dpink}{140pt}] (K14p) at (732,2779) {集群模式下的读写同和高性能，相当于是是不是多活的概念，全部在线，通过负载均衡技术进行多台服务器的随机读写，降低整体集群压力，同时具备可扩展，根据业务增长的服务器扩展。};
\node[lb=dpink] (K2) at (668,2826) {高可用};
\node[lb=dpink] (K21) at (701,2798) {基本概念};
\node[pp={dpink}{140pt}] (K21p) at (728,2797) {可以理解为 将风险降为最低，分两种情况1.假如风险必然发生，如何将风险降低至最低。2.如何不发生风险。};
\node[lb=dpink] (K22) at (701,2854) {相关技术};
\node[pp={dpink}{140pt}] (K22p) at (728,2843) {HA的概念为冗余与心跳机制的结合，为了防止单台服务器挂造成的宕机故障，通过keepalive技术实现 比如Nigx，通过心跳机制来检测Ngix的是否为Activity状态。这里有比到了虚拟IP地址（回头查下Hash环的那个具体忘了），客户流量打过来时通过虚拟IP也就是VIP，通过VIP瓢逸进行某台真实nigx ip地址的请求与发送，VIP瓢移后总体看跟据公共和节点扩展自一致性哈希（Consistent Hashing）};
\node[lb=dpink] (K221) at (730,2854) {Nginx};
\node[lb=dpink,anchor=south west] (K221p) at (755,2854) {负责将请求进入后流量分发的中间件。};
\node[lb=dpink] (K222) at (733,2865) {Keepalive};
\node[lb=dpink,anchor=south west] (K222p) at (765,2865) {Ngix的HA是通过Keepalive实现的};
\node[lb=dpink] (K3) at (670,2983) {部署操作};
\node[lb=dpink] (K31) at (703,2983) {SHELL};
\node[lb=dpink] (K311) at (733,2946) {命令};
\node[lb=dpink] (Kc1) at (758,2883) {cat};
\node[lb=dpink] (Kc1a) at (783,2883) {概念};
\node[pp={dpink}{140pt}] (Kc1p) at (807,2882) {可直接查看某个文件的所有内容，或者一并某几个文件的到一个文件中的命令。};
\node[lb=dpink] (Kc2) at (758,2901) {scp};
\node[lb=dpink] (Kc2a) at (783,2901) {概念};
\node[pp={dpink}{140pt}] (Kc2p) at (807,2900) {服务器间的某个文件的传输，比如我需要拷贝一个配置到另外一个服务器的传输。};
\node[lb=dpink] (Kc3) at (758,2926) {tail};
\node[pp={dpink}{140pt}] (Kc3p) at (780,2925) {tail -100f xxxx.log 查询这个日志文件中最后打印出的100条日志（这里面可以理解为是持续打印日志） 如果说就是 tail -100 xxxx.log?就是打印最近的一百条。};
\node[lb=dpink] (Kc4) at (758,2936) {top};
\node[lb=dpink,anchor=south west] (Kc4p) at (780,2936) {可以查看这台服务器的比如cpu 的占用情况。};
\node[lb=dpink] (Kc5) at (758,2953) {vim};
\node[pp={dpink}{140pt}] (Kc5p) at (780,2952) {我要编辑某个日志文件 vim xxxx.log 就可以编辑日志文档 但是如果日志太大不建议使用 实在是太卡了。};
\node[lb=dpink] (Kc6) at (762,2971) {chmod?};
\node[pp={dpink}{140pt}] (Kc6p) at (788,2970) {就权，比如说我给某个服务器文件路径去授权 chmod -777 xxxx.路径? 好久不用了啦。};
\node[lb=dpink] (Kc7) at (758,2982) {kill};
\node[lb=dpink,anchor=south west] (Kc7p) at (780,2982) {kill -9 杀掉进程};
\node[lb=dpink] (Kc8) at (760,2999) {rm -rf};
\node[pp={dpink}{140pt}] (Kc8p) at (786,2998) {某个文件路径 我删除这个路径比如/home/admin/ -> rm -rf *./home/rm -rf * 完了，这台服务器的linux路径没了。};
\node[lb=dpink] (Kc9) at (765,3010) {ps -ef java};
\node[lb=dpink,anchor=south west] (Kc9p) at (797,3010) {查看当前服务器下的java进程。};
\node[lb=dpink] (K312) at (733,3021) {脚本};
\node[lb=dpink] (K3121) at (759,3021) {sh};
\node[lb=dpink] (K32) at (671,3059) {注意事项};
\node[pp={dpink}{140pt}] (K32p) at (698,3058) {对于生产环境 能够你经过已经熟悉过以及命令的掌握并有把握 也要把它一个字一个字的确认 后者这个现在执行过 那么我 把它编辑写完的记事本看。每次执行 只需要手动修改中间那里 比如某个文件的名字的修改。当然现在更多是自动化平台，程序员入参的命令行执行，几乎不可能 但是 真正linux开发的同学是不是还是得谨慎的执行这种命令行的。};
\foreach \a/\b in {T/K,K/K1,K1/K11,K11/K11p,K1/K12,K12/K12p,K1/K13,K13/K13p,K1/K14,K14/K14p,K/K2,K2/K21,K21/K21p,K2/K22,K22/K22p,K22/K221,K221/K221p,K22/K222,K222/K222p,
  K/K3,K3/K31,K31/K311,K311/Kc1,Kc1/Kc1a,Kc1a/Kc1p,K311/Kc2,Kc2/Kc2a,Kc2a/Kc2p,K311/Kc3,Kc3/Kc3p,K311/Kc4,Kc4/Kc4p,K311/Kc5,Kc5/Kc5p,K311/Kc6,Kc6/Kc6p,
  K311/Kc7,Kc7/Kc7p,K311/Kc8,Kc8/Kc8p,K311/Kc9,Kc9/Kc9p,K31/K312,K312/K3121,K3/K32,K32/K32p}
  \draw[rc=dpink] (\a.south east) to (\b.south west);

% 辅助工具
\node[lb] (G) at (627,3087) {辅助工具};
\node[lb] (G1) at (657,3087) {Git};
\node[lb] (G11) at (685,3071) {git clone};
\node[lb,anchor=south west] (G11p) at (708,3071) {克隆本次进代分支};
\node[lb] (G12) at (685,3081) {git brash};
\node[lb,anchor=south west] (G12p) at (708,3081) {查看所有已有分支};
\node[lb] (G13) at (685,3092) {git check};
\node[lb,anchor=south west] (G13p) at (708,3092) {就是切换当前分支为我指的分支下的代码};
\node[lb] (G14) at (687,3103) {git update};
\node[lb,anchor=south west] (G14p) at (712,3103) {拉新现有所有分支的东西};
\foreach \a/\b in {T/G,G/G1,G1/G11,G11/G11p,G1/G12,G12/G12p,G1/G13,G13/G13p,G1/G14,G14/G14p}
  \draw[rc=tblue] (\a.south east) to (\b.south west);

% 参考资料
\node[lb=rgray] (R) at (600,3118) {参考资料};
\draw[rgray, line width=0.5pt] ($(R.south east)+(3,0)$) circle (2.5pt);
% 管理
\node[lb=mgreen] (M) at (596,3269) {管理};
\node[lb=dpink] (M1) at (627,3216) {项目分工};
\node[lb=dpink] (M11) at (662,3133) {产品经理};
\node[lb=dpink] (M12) at (662,3155) {项目经理};
\node[lb=dpink] (M121) at (697,3144) {需求收集};
\node[lb=dpink] (M122) at (697,3155) {问题反馈};
\node[lb=dpink] (M13) at (661,3238) {架构师};
\node[pp={dpink}{140pt}] (M13p) at (685,3237) {我能接触到的技术同学的内心有对自己系统定位边界的把握，同时又能了解自己系统在业务大体的定位在遇到核心问题时，站出来，不是说架构师就是拿一个很牛逼的技术来解决，而是能够在全局视角下处理问题的人。经过和他们沟通的时候，我的能力在这个方面会有进步 在后续的会议会以及历史，也会提出问题的思路。比如：要说没有服务，有一些实时消费数据对应业务层面的导出，这个数据如果怎么都对不上。在不熟悉的情况下，我能想到，就是有个bug就得就是能说是在中前面的哪些日志，比如说好的有问题改了。最终确认是bug。};
\node[lb=dpink] (M14) at (680,3250) {开发同学（数据、算法、后端、前后技术、运维）};
\node[lb=dpink] (M15) at (662,3261) {技术支持};
\node[lb=dpink] (M16) at (660,3299) {其他点};
\node[lb=dpink] (M161) at (693,3299) {重要建议};
\node[pp={dpink}{135pt}] (M161p) at (720,3298) {重要的是对其重要建议本身就是一种竞争和互相学习，因为大家应用的场景和出发点不同 所以会有其他视角的思想的加入，互相学习之优，最终重要的迭代的思路的维护都不需从来是 还是能走到用户问题还是系统的规定性导致的那数据的和用户的产品能的下降还是提高，最终会想上的规划法。};
\node[lb=mgreen] (M2) at (627,3311) {设计管理};
\node[lb=mgreen] (M3) at (627,3322) {团队管理};
\foreach \a/\b in {M/M1,M/M2,M/M3} \draw[rc=mgreen] (\a.south east) to (\b.south west);
\foreach \a/\b in {M1/M11,M1/M12,M12/M121,M12/M122,M1/M13,M13/M13p,M1/M14,M1/M15,M1/M16,M16/M161,M161/M161p}
  \draw[rc=dpink] (\a.south east) to (\b.south west);

% AI
\node[lb=arose] (AI) at (603,3618) {AI基础能力};
\node[lb=arose] (AI1) at (655,3618) {AI在互联网中运用的人类};
\node[pp={arose}{140pt}] (AI1p) at (698,3617) {从商业互联网的整体中来看的话，AI是不是会取代人类这个命题? 或说，需要引导。从我Bagent为中央调度节点了，不会。为什么呢? 怎么解? 我想说个例出AI做得不会取代人类。\par 理性过程：\par 按照理解：AI会人类的实现（就是它可以自动的执行的处理? 然后它一开始对它的人类的共同要求吗? ）+AI使用与现实世界的结合（或模范是? ）技术+AI就是agent（想念那的（即产值人、而到到什么? ））＋AI的Bagent就是agent吗? 我不知道是否应该是基于人类的理解节点的模型去对话的+是对为主体（我心、目标、反思、互动性、前后推测值，这个呢? 你就能学吗? ）＋?\par 感性过程：\par 我们能提升多为世界可以从模型的能力视角对问题，使在我能判断AI可以同样的是要做的，你问题解决了，你有什么的在身，其从处理打位可以具有会成立主题的? 我们从哲学上的出发去评判，主的确定他的方法之一，就在可能方法可能的取中的我，去定哪它是多久的历史，这个过程的机制，想想，然然，认识以及（这个?）是种分层的错误的，但是我们现在不好的不是，就是就开始，这是对问题的人类的价值的一步的历史中的一份性最的的任，因此成人类的一份定文的一份的过程到最开发是确定了开始的价值? 那就是一种同样的价值? 我们的目的的认识。\par 类型中的应该是第一步，你是认为那个单本来现实，但不是说你自己不能对它有现有的问题，你可以从在可以中有，只因为最结果的对于的关系，我知道的实际的的新的理论等，还需要反馈了 确AgentT（也是Bagent）中，AI可以出去的像是全角色做了? 我的的话的对个不同的人的的的的一样，的，是的的计算，你拿下看你的的人的，认识的的，你就可以再为的意义的一个 才可以做，确定的的多的 是 这个一是可以到的，在在的的之。\par 我认为，面向AI更好到的AI以及? 所以没有的价值是的是? 应该在社会文文本的要求什么，人的的是的，的的人的，知识的的价值去实现人的的学习，以人人知道人的的。};
\draw[rc=arose] (AI.south east) to (AI1.south west);
\draw[rc=arose] (AI1.south east) to (AI1p.south west);

% first-level right
\draw[rc=tblue] (C.east) to (T.south west);
\draw[rc=rgray] (C.east) to (R.south west);
\draw[rc=mgreen] (C.east) to (M.south west);
\draw[rc=arose] (C.east) to (AI.south west);

% ===== left: 产品 =====
\node[lb=ppurple] (P) at (482,1086) {产品};
\node[lb=ppurple] (P1) at (442,876) {数据应用};
\node[lb=ppurple] (P11) at (403,518) {数据研发平台};
\node[lb=ppurple] (P111) at (364,523) {Dataphin};
\node[lb=ppurple] (P10a) at (331,40) {数据地图};
\node[pp={ppurple}{150pt}] (P10ap) at (160,39) {数据地图是对全域数据资产的检索与浏览入口，可以通过表名、字段、负责人等查询到对应的表，查看表的血缘关系、分区信息、产出任务以及使用说明，方便数据研发同学快速定位数据。};
\node[lb=ppurple] (P10b) at (331,118) {数据集成};
\node[pp={ppurple}{150pt}] (P10bp) at (160,117) {数据集成是将业务系统中的数据同步到数据仓库中，配置数据源、目标表以及同步方式（全量/增量），同时可以设置同步频率、脏数据的容忍度，以及同步失败后的重跑机制。};
\node[lb=ppurple] (P10c) at (331,200) {任务开发};
\node[pp={ppurple}{150pt}] (P10cp) at (160,199) {在IDE中编写SQL或者脚本任务，配置调度参数和上下游依赖，提交到开发环境进行测试，测试通过后再提交发布到生产环境，由调度系统按照周期进行调度。};
\node[lb=ppurple] (P10d) at (331,285) {调度运维};
\node[pp={ppurple}{150pt}] (P10dp) at (160,284) {运维中心可以查看周期任务的运行状态，对失败的任务进行重跑、置成功、暂停等操作，也可以对历史周期进行补数据，查看任务的运行日志以及资源消耗的情况。};
\node[lb=ppurple] (P10e) at (331,370) {数据服务};
\node[pp={ppurple}{150pt}] (P10ep) at (160,369) {将数据仓库中加工好的数据通过API的方式提供给业务方使用，配置查询的表和参数，生成接口后发布，业务系统通过调用接口获取数据，避免直接访问底层表。};
\node[lb=ppurple] (P10f) at (331,450) {权限管理};
\node[pp={ppurple}{150pt}] (P10fp) at (160,449) {对project成员以及表的读写权限进行管控，申请权限需要经过表负责人审批，敏感字段需要额外的安全等级审批。};
\node[lb=ppurple] (P10g) at (331,492) {数据标准};
\node[lb=ppurple] (P1111) at (331,514) {物理表};
\node[lb=ppurple] (P1112) at (331,525) {逻辑表};
\node[lb=ppurple] (P112) at (329,553) {数据建模};
\node[lb=ppurple] (P1121) at (267,543) {维度建模（星型星座/雪花模型）};
\node[pp={ppurple}{138pt}] (P1121p) at (77,541) {维度建模包含两部分，一部分是静态的维表（配置数据、静态数据），一部分是事实表，比如订单表每天增加的订单数据。};
\node[lb=ppurple] (P1122) at (298,564) {指标};
\node[lb=ppurple] (P11221) at (268,553) {原子指标};
\node[lb=ppurple] (P11222) at (268,564) {衍生指标};
\node[lb=ppurple] (P11223) at (268,575) {派生指标};
\node[lb=ppurple] (P113) at (341,621) {数据研发流程平台（研发全环境）};
\node[pp={ppurple}{140pt}] (P113p) at (155,620) {这个当初要做没有做成，但是从数据研发角度来讲需要这样的流程串联平台，从数据研发一开始的创建任务、数据代码开发、提交、发布、运维的全流程在同一个平台操作的连贯性与推进的节奏感（防止用户做未回滚的页面，我要提交后发布，要跳转到了发布页面，我发布完又跳转到了运维页面，我要运维，又要点击运维按钮跳到运维页面，很能本身很繁琐的。所以建设这个平台是非常有意义的也是有价值的。};
\node[lb=ppurple] (P114) at (364,631) {数据质量};
\node[lb=ppurple] (P115) at (364,642) {安全治理};
\node[lb=ppurple] (P12) at (403,681) {消费端的产品};
\node[lb=ppurple] (P121) at (362,681) {画像（圈选）};
\node[pp={ppurple}{137pt}] (P121p) at (195,680) {虽然在前期没有具体的开发任务，但是凭借接触在这些的标签系统的体验中，我理解上是人平台通过把每个字段映射成为可应业务下的业务类标签。比如：支付业务员，他需要知道具体消费用户的人群和偏爱，从而推荐他们相应的最新产品或大促活动等。那么画人平台的职责就是能进行某个维度的人员特征的人群范围的确定。};
\node[lb=ppurple] (P13) at (408,744) {治理产品};
\node[lb=ppurple] (P131) at (349,744) {成本治理};
\node[pp={ppurple}{137pt}] (P131p) at (185,726) {数据研发在系统成本自身根据各project管理员通过对现有存储计算的资源和存储资源的使用情况（历史存量使用情况，监测趋势，现有余数存量的评估?），设置的一系列规则，如果超过了规则的边界，说明该project会有相应的资源会超出预算（已有额外资源的分配），系统则会触发告警。那么如果数据研发用户迟迟不处理，则会与管控平台（变更管控）结合，如果不处理，则将有其影响任务，反向推动对方必须去进行治理。};
\node[lb=ppurple] (P132) at (317,751) {健康分};
\node[pp={ppurple}{137pt}] (P132p) at (154,750) {数据健康分，根据某个project用能比重到某个表的健康分，这可以是人为可根据定义的一种标准。在阿里上，Project健康分，业务域健康分，GO级数据健康分。};
\node[lb=ppurple] (P133) at (315,762) {资产治理};
\node[lb=ppurple] (P14) at (368,780) {管控};
\node[lb=ppurple] (P141) at (338,780) {变更管控};
\node[pp={ppurple}{135pt}] (P141p) at (173,779) {对于事前可能发生的因变更导致的风险事件进行可控化（比如 研发是否发布到生产前的检查是否违书的规范）};
\node[lb=ppurple] (P15) at (365,832) {体系分级};
\node[lb=ppurple] (P151) at (330,832) {体系分级};
\node[pp={ppurple}{137pt}] (P151p) at (165,831) {我之前好像也说了，就是对每个数据任务、任务/表粒度的体系等级的打标，因为数据链路的相互依赖关系越来越复杂，可能从project、甚至到bu（也就可以直接往后推进一些过去）的任务。你影响你数的任务就可能影响了成者整个上面链路都有的任务链路上，所以需要有增量任务的体系等级，提醒你的打标审批，由project管理员/系统管理员/角色 进行打标审批、批量审批。存量任务的一次性梳理，也就是这个项目初始化上线后对所有依赖链路的任务/表的体系等级的打标。};
\node[lb=ppurple] (P16) at (357,892) {告警中心\&DQC};
\node[lb=ppurple] (P161) at (310,892) {基线、DQC};
\node[pp={ppurple}{137pt}] (P161p) at (142,891) {那么对 数据链路我们知道了，要把链路里面的监控 在每日调度任务的时候 能够为链路的任务进行监控，我们能监控一点，每天的任务成效，每一份任务有具，每一份任务在数据流写入表的计算过程，会有如下问题：1.比如上游数据变更导致数据不准确，比如某个字段历史是某个范围区间，今天突然数据量变高或者数量偏少不一致地数量（可能是数据研发的变更也可能是一开始在用系统变更导致的数据链路的问题），那么要护的作用就是 设置告警比如数值验证（数据量突然增大或减少），检单值数量不正确（检测因为业务变化的数量变化）};
\node[lb=ppurple] (P2) at (403,956) {风险保障产品};
\node[lb=ppurple] (P21) at (365,1016) {基线管理};
\node[lb=ppurple] (P211) at (334,1016) {概念};
\node[lb=ppurple] (P2111) at (307,970) {基线};
\node[pp={ppurple}{125pt}] (P2111a) at (165,919) {基线是对一个任务的完成时间的保障，它不仅是某个任务的完成，而是这个任务整个的上游链路同时也完成了任务。};
\node[pp={ppurple}{125pt}] (P2111b) at (165,944) {基线中的承诺时间和预警时间，承诺时间是说到的时间完成任务，预警时间是在临近承诺时间前发生第一次提醒。};
\node[pp={ppurple}{125pt}] (P2111c) at (165,970) {基线的破线，任务在指定时间内不能完成任务时导致的报警升级上升（比如第一次告警，第二次电话等），会通知任务的主要负责人。};
\node[lb=ppurple] (P2112) at (276,1030) {理解误区};
\node[lb=ppurple] (P2113) at (305,1062) {甘特图};
\node[pp={ppurple}{125pt}] (P2113p) at (165,1062) {任务运行的历史曲线，可以展示出各个任务的CPU、内存资源占用，比如我们的资源可能被打满了，就会出现排队等待。};
\node[lb=ppurple] (P22) at (347,1133) {数据知识通路（未实现）};
\node[pp={ppurple}{125pt}] (P22p) at (165,1153) {这个概念是有我在数据链路产出的基础上想到的，就是在数据同步入到相应的project里面时就需要将这个实时的关系有一个统一入口的管理，这样在运维时就可以快速的定位，一开始的规划做出了有多少个任务还在同步的同时（数据链路），因为权限的，数据的隐私问题，有一个知识服务平台（甚至可以找到应用链路的是哪些），就可以为快速的帮助定位到真实的链路。};
\node[lb=ppurple] (P3) at (407,1236) {OLAP产品};
\node[lb=ppurple] (P31) at (363,1205) {元数据查询产品};
\node[lb=ppurple] (P311) at (308,1205) {应用数据元数据查询产品};
\node[pp={ppurple}{120pt}] (P31p) at (170,1230) {这个是对于产品中的应用了解的最好的产品中，通过一个小小的查询面板，就可以通过页面上的查询展示出对应的数据表。};
\node[lb=ppurple] (P32) at (370,1260) {即席查询};
\node[lb=ppurple] (P321) at (333,1251) {DeepInsight};
\node[lb=ppurple] (P322) at (340,1269) {Plus};
\node[pp={ppurple}{140pt}] (P322p) at (180,1268) {这个是python写的 可以直接修改数据源链接 进行查询};
\node[lb=ppurple] (P4) at (450,1297) {数据仓库};
\node[lb=ppurple] (P41) at (420,1297) {概念};
\node[lb=ppurple] (P411) at (383,1280) {什么是数据仓库};
\node[lb=ppurple] (P412) at (392,1297) {OLTP};
\node[pp={ppurple}{195pt}] (P412p) at (180,1296) {面向的事务处理，可以理解为传统数据库的增删改查，单条响应速度快。};
\node[lb=ppurple] (P413) at (392,1315) {OLAP};
\node[pp={ppurple}{195pt}] (P413p) at (180,1314) {面向的分析处理，可以理解为在分布式服务下的数据分析，单条响应在大数据量下数据处理快。};
\foreach \a/\b in {P/P1,P1/P11,P11/P111,P111/P10a,P10a/P10ap,P111/P10b,P10b/P10bp,P111/P10c,P10c/P10cp,P111/P10d,P10d/P10dp,P111/P10e,P10e/P10ep,P111/P10f,P10f/P10fp,P111/P10g,
  P111/P1111,P111/P1112,P11/P112,P112/P1121,P1121/P1121p,P112/P1122,P1122/P11221,P1122/P11222,P1122/P11223,
  P11/P113,P113/P113p,P11/P114,P11/P115,P1/P12,P12/P121,P121/P121p,P1/P13,P13/P131,P131/P131p,P131/P132,P132/P132p,P131/P133,P1/P14,P14/P141,P141/P141p,
  P1/P15,P15/P151,P151/P151p,P1/P16,P16/P161,P161/P161p,P/P2,P2/P21,P21/P211,P211/P2111,P2111/P2111a,P2111/P2111b,P2111/P2111c,P211/P2112,P211/P2113,P2113/P2113p,
  P2/P22,P22/P22p,P/P3,P3/P31,P31/P311,P311/P31p,P3/P32,P32/P321,P32/P322,P322/P322p,P/P4,P4/P41,P41/P411,P41/P412,P412/P412p,P41/P413,P413/P413p}
  \draw[lc=ppurple] (\a.south west) to (\b.south east);
\draw[lc=ppurple] (C.west) to (P.south east);

% ===== left: 应用实践 =====
\node[lb=ygold] (Y) at (512,1901) {应用实践};
\node[lb=ygold] (Y1) at (473,1722) {系统服务};
\node[lb=ygold] (Y0a) at (440,1322) {元数据};
\draw[ygold, line width=0.5pt] ($(Y0a.south west)+(-4,0)$) circle (2.5pt);
\node[lb=ygold] (Y0b) at (443,1340) {Gateway};
\node[lb=ygold] (Y0b1) at (407,1340) {基本概念};
\node[pp={ygold}{135pt}] (Y0b1p) at (243,1339) {从网关平台的角度 属于对于SQL任务提交后的对于SQL所做计算引擎的任务进行统一的路由分发。};
\node[lb=ygold] (Y0b2) at (372,1385) {数据源解析的打法?};
\node[pp={ygold}{135pt}] (Y0b2p) at (205,1380) {网关的形态，通用化设计一套框架，请求接入业务的网关服务器的CPU、IO、Memory、Load相关指标的储备是否满足（对方服务器的配置储备，比如使用同一规则对方服务器一些，在统一规则下看看是否可用的时候），对比分析负载均衡的配置的储存读取，从而不影响业务的处理。};
\node[lb=ygold] (Y0c) at (425,1412) {统一规则校验（未实现）};
\node[pp={ygold}{140pt}] (Y0cp) at (240,1440) {定义：将所有链路传中的规则和所有数据校验的规则的结果，统一不分散散，不分场景，凡是数据规则配置的都需要一套，但是问题在于 需要如何的成本非常高，数据数据以及切换的成本极高，风险也极高，如果一定要时可以在设计之初就去做 然后一点点接入点的业务使用 慢慢变为一套标准集团统一规则配置管理引擎（可以根据部门、业务线去看整体设）主要是统一的规则的维护问题以及规则是要取决于具的高有效规则的专业度 以及 Owner的 是否如何使用 这一点也是我们关注的方向（未完成）};
\node[lb=ygold] (Y0d) at (443,1448) {调度服务};
\draw[ygold, line width=0.5pt] ($(Y0d.south west)+(-4,0)$) circle (2.5pt);
\node[lb=ygold] (Y11) at (438,1517) {数据研发服务};
\node[lb=ygold] (Y10e) at (404,1460) {CAP};
\node[lb=ygold,anchor=south east] (Y10ep) at (382,1460) {用户基本信息及用户信息等业务规划分的服务。};
\node[lb=ygold] (Y10f) at (400,1496) {数据血缘};
\node[pp={ygold}{130pt}] (Y10fp) at (248,1492) {数据血缘最早来源于 物理元数据的元数据中心的表的存储依赖关系，Table任务和任务的关系 第一阶段是通过XML配置文件进行什么依赖（ODPS），后面依赖关系通过SQL解析（抽象语法树AST）去从树节点中分解形成一张血缘图。};
\node[lb=ygold] (Y111) at (404,1517) {概念};
\node[lb=ygold] (Y1111) at (375,1517) {仓库树};
\node[lb=ygold,anchor=south east] (Y1111p) at (362,1517) {数据仓库在Linux系统上的目录结构。};
\node[lb=ygold] (Y112) at (400,1543) {发布流程};
\node[lb=ygold] (Y1121) at (365,1527) {提交前};
\node[lb=ygold] (Y1122) at (365,1538) {提交后};
\node[lb=ygold] (Y1123) at (360,1548) {正式发到生产};
\node[lb=ygold] (Y1124) at (360,1559) {周期调度};
\node[lb=ygold,anchor=south east] (Y113) at (408,1570) {物理表? 逻辑表? 其实没太理解 也是当时我脑子不懂理解不了};
\node[lb=ygold] (Y12) at (428,1617) {分布式协调注册服务};
\node[lb=ygold] (Y121) at (385,1617) {Zookeeper};
\node[lb=ygold] (Y1211) at (348,1600) {基本概念};
\node[lb=ygold] (Y12111) at (314,1613) {选举机制};
\node[lb=ygold] (Y1212) at (347,1623) {ZNode节点};
\node[lb=ygold,anchor=south east] (Y1212p) at (330,1623) {临时节点与持久节点同步};
\node[lb=ygold] (Y1213) at (345,1633) {Watch监听器};
\node[lb=ygold,anchor=south east] (Y1213p) at (328,1633) {监听节点的变化Znode节点变化};
\node[lb=ygold] (Y13) at (438,1666) {数据同步服务};
\node[pp={ygold}{150pt}] (Y13p) at (160,1652) {将业务数据库的数据同步到分布式数据库 以及 反向回流应用接数据到传统数据库 常用的工具有DATAX、Sqoop等。};
\node[lb=ygold] (Y131) at (402,1681) {Detail};
\node[lb=ygold] (Y1311) at (375,1662) {前置};
\node[lb=ygold,anchor=south east] (Y1311p) at (362,1662) {数据源的配置表 -> 写入数据};
\node[lb=ygold] (Y1312) at (360,1673) {数据运行的sql的编写};
\node[lb=ygold] (Y1313) at (375,1683) {后置};
\node[lb=ygold,anchor=south east] (Y1313p) at (362,1683) {任务结束后的操作，比如 同步完成的状态更新};
\node[lb=ygold] (Y1314) at (362,1700) {页面属性};
\node[lb=ygold] (Y13141) at (331,1694) {数据源和表的配置};
\node[lb=ygold] (Y13142) at (331,1704) {字段映射关系};
\node[lb=ygold] (Y14) at (438,1716) {测试中心};
\draw[ygold, line width=0.5pt] ($(Y14.south west)+(-4,0)$) circle (2.5pt);
\node[lb=ygold] (Y15) at (443,1840) {风险服务};
\node[lb=ygold] (Y151) at (405,1734) {预案平台?};
\node[pp={ygold}{140pt}] (Y151p) at (150,1733) {对风险的预警 实际就是风险来临时系统会提前预警该事件中的某个指标的阈值按着预案，然后进行具体风险问题的预案处理。};
\node[lb=ygold] (Y152) at (405,1781) {盘大屏平台?};
\node[lb=ygold,anchor=south east] (Y152p) at (388,1781) {通过各种日志数据监控，审计? --> 问题发现?};
\node[lb=ygold] (Y153) at (405,1835) {限流中心?};
\node[lb=ygold] (Y1531) at (371,1814) {配置态};
\node[lb=ygold,anchor=south east] (Y1531p) at (358,1814) {... 没看过... 我的理...};
\node[lb=ygold] (Y1532) at (371,1825) {运行态};
\node[lb=ygold,anchor=south east] (Y1532p) at (358,1825) {底层是GO写的?};
\node[lb=ygold] (Y1533) at (371,1860) {概念};
\node[pp={ygold}{140pt}] (Y1533p) at (210,1859) {限流阈值（人为判断的阈值）进行限流，那么限制的流量是否要有？还是有对应的系统服务，保证流量的稳定。};
\node[lb=ygold] (Y154) at (403,1880) {自动化降级?};
\node[pp={ygold}{140pt}] (Y154p) at (230,1879) {就是限流服务本身就包含了 降级方案吧，什么是降级? 我可能是降级阈值下的预案的设置 不然是 自然流量的...};
\node[lb=ygold] (Y155) at (410,1892) {CDO?};
\node[lb=ygold,anchor=south east] (Y155p) at (395,1892) {我忘了... 没有接触过...};
\node[lb=ygold] (Y16) at (443,2039) {技能服务};
\node[lb=ygold] (Y161) at (398,2039) {数字化技术管理平台};
\node[lb=ygold] (Y1611) at (356,2013) {功能};
\node[lb=ygold] (Y16111) at (320,1989) {安全生产仪表盘};
\node[lb=ygold] (Y161111) at (282,1974) {功能};
\node[lb=ygold] (Yq1) at (254,1963) {趋势图};
\node[lb=ygold,anchor=south east] (Yq1p) at (240,1963) {增长或下降趋势};
\node[lb=ygold] (Yq2) at (252,1974) {上着? 下着分析};
\node[lb=ygold] (Yq3) at (254,1984) {细部数};
\node[lb=ygold] (Y161112) at (282,2006) {属性};
\node[lb=ygold] (Yr1) at (256,1995) {环比};
\node[lb=ygold,anchor=south east] (Yr1p) at (244,1995) {具体忘了... 但是是跟前一天还是跟今天的比?};
\node[lb=ygold] (Yr2) at (256,2006) {同比};
\node[lb=ygold,anchor=south east] (Yr2p) at (244,2006) {具体忘了... 还是不是... 比如上个月与这个月的比?};
\node[lb=ygold] (Yr3) at (256,2017) {占比};
\node[lb=ygold,anchor=south east] (Yr3p) at (244,2017) {在全属性下的 某个属性在全属性下的比例};
\node[lb=ygold] (Y16112) at (322,2027) {网工管理?};
\node[lb=ygold] (Y16113) at (318,2038) {根据数据是T+1还是T+h};
\node[lb=ygold] (Y1612) at (350,2064) {数据高可用};
\node[lb=ygold] (Yh1) at (311,2048) {数据验证?};
\node[lb=ygold,anchor=south east] (Yh1p) at (290,2048) {方案};
\node[lb=ygold] (Yh2) at (315,2059) {explore};
\node[lb=ygold,anchor=south east] (Yh2p) at (295,2059) {OB数据量查询不了，查询慢-> explore};
\node[lb=ygold] (Yh3) at (319,2070) {ob};
\node[lb=ygold,anchor=south east] (Yh3p) at (305,2070) {分区时间\quad 版本表?\quad 版本控制};
\node[lb=ygold] (Yh4) at (313,2080) {我的疑问问题};
\node[lb=ygold] (Y17) at (442,2120) {流程服务};
\node[lb=ygold] (Y171) at (410,2120) {Links};
\node[lb=ygold] (Y1711) at (361,2120) {定位为流程串联平台的底扩展};
\node[pp={ygold}{138pt}] (Y1711p) at (177,2119) {各环节的自动化执行及\&\&可视化串联及比较 （某个自动化服务的百分比有 启动化设备的百分比的精度等） --> 重要让各领域应用的同学担心（那就是我的就只从A的一下） 且 体现了所在的服务名在的问题环节，出问题了谁都有风险 直接从这个入口看就行了，具体其他平台 就不需要看不相 现在我们专业的事 你们准确只用的流程与细节，完美? };
\node[lb=ygold] (Y18) at (447,2166) {前端};
\node[lb=ygold] (Y181) at (404,2144) {JSP/相较前端的mvn};
\node[pp={ygold}{135pt}] (Y181p) at (228,2143) {相当于最好的可以理解为老版本的页面的代码渲染方式 可以理解为你的所有CSS和JS都会被JSP渲染 然后项目启动时 你看到的那个页面 就是用JSP写的。};
\node[lb=ygold] (Y182) at (414,2162) {JsBigfish};
\node[pp={ygold}{130pt}] (Y182p) at (247,2161) {语法与JAVA类似 但是上手的话需要前端同学有一种类似的前端 会比较快上手。};
\node[lb=ygold] (Y183) at (419,2187) {CSS};
\node[pp={ygold}{135pt}] (Y183p) at (259,2186) {定义：对于界面宽高 颜色 整体美观度 单个按钮的样式等 能为框后的描述是什么的一种设置 重点在于需要去引入CSS相关的组件包 测试起来需要有经验会更快一点。};
\foreach \a/\b in {Y/Y1,Y1/Y0a,Y1/Y0b,Y0b/Y0b1,Y0b1/Y0b1p,Y0b/Y0b2,Y0b2/Y0b2p,Y1/Y0c,Y0c/Y0cp,Y1/Y0d,Y11/Y10e,Y10e/Y10ep,Y11/Y10f,Y10f/Y10fp,
  Y1/Y11,Y11/Y111,Y111/Y1111,Y1111/Y1111p,Y11/Y112,Y112/Y1121,Y112/Y1122,Y112/Y1123,Y112/Y1124,Y11/Y113,
  Y1/Y12,Y12/Y121,Y121/Y1211,Y1211/Y12111,Y121/Y1212,Y1212/Y1212p,Y121/Y1213,Y1213/Y1213p,Y1/Y13,Y13/Y13p,Y13/Y131,Y131/Y1311,Y1311/Y1311p,Y131/Y1312,
  Y131/Y1313,Y1313/Y1313p,Y131/Y1314,Y1314/Y13141,Y1314/Y13142,Y1/Y14,Y1/Y15,Y15/Y151,Y151/Y151p,Y15/Y152,Y152/Y152p,Y15/Y153,Y153/Y1531,Y1531/Y1531p,
  Y153/Y1532,Y1532/Y1532p,Y153/Y1533,Y1533/Y1533p,Y15/Y154,Y154/Y154p,Y15/Y155,Y155/Y155p,
  Y1/Y16,Y16/Y161,Y161/Y1611,Y1611/Y16111,Y16111/Y161111,Y161111/Yq1,Yq1/Yq1p,Y161111/Yq2,Y161111/Yq3,Y16111/Y161112,Y161112/Yr1,Yr1/Yr1p,Y161112/Yr2,Yr2/Yr2p,
  Y161112/Yr3,Yr3/Yr3p,Y1611/Y16112,Y1611/Y16113,Y161/Y1612,Y1612/Yh1,Yh1/Yh1p,Y1612/Yh2,Yh2/Yh2p,Y1612/Yh3,Yh3/Yh3p,Y1612/Yh4,
  Y1/Y17,Y17/Y171,Y171/Y1711,Y1711/Y1711p,Y1/Y18,Y18/Y181,Y181/Y181p,Y18/Y182,Y182/Y182p,Y18/Y183,Y183/Y183p}
  \draw[lc=ygold] (\a.south west) to (\b.south east);
\draw[lc=ygold] (C.west) to (Y.south east);

% 编程语言
\node[lb=ygold] (L) at (477,2715) {编程语言};
\node[lb=ygold] (L1) at (419,2785) {Java};
\node[lb=ygold] (L11) at (390,2446) {设计模式};
\node[lb=ygold] (L111) at (342,2346) {常用应用开发设计模式};
\node[lb=ygold] (L1111) at (298,2224) {策略};
\node[pp={ygold}{138pt}] (L1111a) at (138,2206) {同一类事物在处理的情况下 要区分成不同场景下的对应实现策略 从而使代码更清晰化 不会各自业务融合在一起而导致的代码难读 不可读问题};
\node[lb=ygold] (L11111) at (262,2215) {上下文Context};
\node[lb=ygold] (L11112) at (267,2225) {开闭原则};
\node[lb=ygold,anchor=south east] (L11112p) at (250,2225) {依赖可扩展，对于修改本身不影响框架本身};
\node[pp={ygold}{138pt}] (L1111b) at (138,2242) {定义业务场景下的策略接口，根据具体类型的调用，符合开闭原则的同时优化代码可读性。};
\node[lb=ygold] (L1112) at (298,2313) {单例};
\node[pp={ygold}{138pt}] (L1112a) at (138,2260) {对象一旦初始创建后，再次创建就会判断该对象是否存在，如果存在则不再创建。};
\node[lb=ygold] (L11121) at (253,2271) {饿汉模式（急切创建）};
\node[lb=ygold,anchor=south east] (L11121p) at (228,2271) {可以认为New出来的对象一定是线程安全的，不需要考虑其他情况。};
\node[lb=ygold] (L11122) at (253,2289) {懒汉模式（延迟加载）};
\node[pp={ygold}{135pt}] (L11122p) at (80,2288) {在多线程的情况下，需要考虑加锁来防止后多线程执行导致的对象被重复创建。};
\node[lb=ygold] (L11123) at (271,2367) {单例的解析};
\node[pp={ygold}{138pt}] (L11123p) at (98,2366) {开辟这块的逻辑，那我的理解是，线程A在执行过程时，分配内存和初始化，创建对象，但线程B如果此刻内存地址已经有值，那么这个线程A的切换的问题点到了。瞬间给了线程B，线程B的判断的切换，线程B一看，就取了，就，线程A已经被这个地址了，说明就创建对象了，然后那个对象都对应的内存的问题，就是下去了，那就是到认为有数，不用new了，随后执行了这个线程下来的执行方法，比如getxxx属性，然后空指针了。也就是我们从本类这个场景出发，有synchronize 让他去带，你必须在先执行这个线程执行的，你再应该执行，也就是要问切换，必须在我写到最后再去线程的那块的执行下去（中间还有CPU执行几个的指令编排的逻辑）};
\node[draw=black!30, fill=white, font=\fontsize{4.2}{6.7}\selectfont, align=left, inner sep=2pt, anchor=north west] (code) at (2,2293) {参考代码：\\//第一次检查：如果实例存在，则直接返回\\\quad public static test getInstance()\{\\\quad\quad if(instance == null)\{\\\quad synchronized(Test.class)\{\\\quad if(instance == null)\{\\\quad\quad\quad instance = new Test();\\\quad\quad\quad\quad\quad \}\\\quad \}\\\quad return instance;\\\quad\quad \}\\\}};
\draw[black!35, line width=0.5pt] (95,2303) .. controls (88,2303) and (88,2306) .. (88,2315) -- (88,2332) .. controls (88,2336) and (86,2337) .. (84,2338) .. controls (86,2339) and (88,2340) .. (88,2344) -- (88,2362) .. controls (88,2366) and (90,2367) .. (95,2367);
\node[lb=ygold] (L1113) at (298,2397) {工厂};
\node[pp={ygold}{138pt}] (L1113p) at (138,2396) {在当今Spring框架下，Bean的初始化以及Map对象的初始化都在创建Bean技术，代替了仅使用工厂模式去New对象的设计模式。};
\node[lb=ygold] (L1114) at (296,2414) {观察者};
\node[pp={ygold}{138pt}] (L1114p) at (133,2413) {发布-订阅的事件驱动，但这这是有个问题 代码实现是用Java需要开发统一的事件模型，为什么不能叫做观察 其他更好的办法吗?};
\node[lb=ygold] (L1115) at (294,2439) {模板模式};
\node[pp={ygold}{138pt}] (L1115p) at (130,2438) {将所有的方法抽象成接口的同时，会声明一个抽象调用的方法，从而使调用者负责它。（待与不同探讨，因为这样可以来看策略模式和模板模式是可以相互转换的?）};
\node[lb=ygold] (L1116) at (296,2457) {责任链};
\node[pp={ygold}{138pt}] (L1116p) at (133,2456) {对于要处理的某个事物，依次顺序传递给处理的实现类，每每某个能够满足处理的能停止的设计模式。（待与不同讨论，同时待验证）};
\node[lb=ygold] (L1117) at (294,2468) {状态模式};
\node[lb=ygold,anchor=south east] (L1117p) at (272,2468) {状态的也就是是Status的流转。};
\node[lb=ygold] (L1118) at (343,2492) {模版设计模式};
\node[lb=ygold] (L11181) at (314,2492) {代理};
\node[pp={ygold}{138pt}] (L11181p) at (153,2491) {给出我的一个疑问 但我所有都可以通过Spring直接加载 依赖配置 或者注入 Container 那样找的这种代理模式 就没注意 不知道从设计 看起来没能 我自己有没有应用场景 （待学习知识点 java动态代理）};
\node[lb=ygold] (L1119) at (342,2502) {当前应用设计模式实践};
\node[lb=ygold] (L112) at (353,2547) {设计原则};
\node[lb=ygold] (L1121) at (320,2527) {高内聚};
\node[pp={ygold}{138pt}] (L1121p) at (157,2526) {系统框架业务实体根据模型的粒度的边界划分为清晰（比如 房子 包含桌子、凳子、椅子，但 车子 只包含车子的轮胎、方向盘、驾驶座等，房子和车子并拼边界清晰）};
\node[lb=ygold] (L1122) at (320,2538) {低耦合};
\node[lb=ygold,anchor=south east] (L1122p) at (307,2538) {模块与模块间、系统与系统间的交互/数据流向边界较为清晰。};
\node[lb=ygold] (L1123) at (319,2556) {易维性};
\node[pp={ygold}{138pt}] (L1123p) at (157,2555) {在高内聚、低耦合、扩展性满足的系统具有可持的监控措施/通报问题的降级方案。};
\node[lb=ygold] (L1124) at (320,2567) {扩展性};
\node[lb=ygold,anchor=south east] (L1124p) at (307,2567) {具备未来可能前景下的功能模块，模块能够有更多的新功能的扩展。};
\node[lb=ygold] (L113) at (356,2577) {Netty};
\node[lb=ygold,anchor=south east] (L113p) at (342,2577) {我记得 Netty本质上是封装了Socket这种通信方式,可以进行RPC调用。};
\node[lb=ygold] (L114) at (310,2594) {生命周期};
\node[lb=ygold] (L1141) at (270,2588) {ApplicationLoad?};
\node[lb=ygold,anchor=south east] (L1141p) at (250,2588) {我不知道对 但是我印象是有ObjectClassLoad从后 我记得将他们几};
\node[lb=ygold] (L1142) at (270,2599) {对象的生命周期};
\node[lb=ygold,anchor=south east] (L1142p) at (250,2599) {class类的创建-->内存地址的创建\&\&内存空间的创建-->对象的释放-->消亡};
\node[lb=ygold] (L12) at (447,3016) {后端};
\node[lb=ygold] (L121) at (382,2921) {企业级应用框架};
\node[lb=ygold] (L1211) at (344,2917) {Dubbo};
\node[lb=ygold,anchor=south east] (L1211p) at (330,2917) {RPC框架，服务之间的调用，就是接口的注册与发现自动数据};
\node[lb=ygold] (L1212) at (341,2928) {Mybatis};
\node[lb=ygold] (L1213) at (340,2952) {Hibernate};
\node[pp={ygold}{140pt}] (L1213p) at (185,2951) {ORM框架，通过对象和数据表的映射关系，将对象自动持久化到数据库中，相比Mybatis需要手写SQL，它能直接操作对象，但复杂查询的性能较弱，需要更多的配置。};
\node[lb=ygold] (L122) at (390,3042) {虚拟机};
\node[lb=ygold] (L1221) at (362,3042) {JVM};
\node[pp={ygold}{140pt}] (L1221a) at (185,2990) {对于对象创建后在堆中分配内存，新生代一个Eden区以及两个Survivor区，中间经过多次GC后仍存活的对象会晋升到老年代，方法区（元空间）存放类的信息，不同区域对应不同的回收算法。};
\node[lb=ygold] (L1222) at (330,3008) {Jstack};
\node[lb=ygold,anchor=south east] (L1222p) at (312,3008) {查看线程的堆栈信息，排查死锁怎么用};
\node[lb=ygold,anchor=south east] (L1223) at (345,3020) {Minor GC 与 Full GC，新生代--老年代的回收};
\node[pp={ygold}{140pt}] (L1224) at (185,3045) {类加载的过程：加载、验证、准备、解析、初始化，双亲委派模型保证了类的唯一性（比如自定义的String类不会被加载，一种保护）。};
\node[pp={ygold}{140pt}] (L1225) at (185,3078) {内存溢出的排查，通过dump文件分析是哪个对象占用了大量内存，比如一次查询出大量数据放到了List中没有释放，或者静态集合中不断加对象，还有Tree的结构。};
\node[lb=ygold] (L123) at (389,3124) {并发编程};
\node[lb=ygold] (L1231) at (360,3124) {锁};
\node[lb=ygold] (L12311) at (334,3092) {Lock};
\node[lb=ygold] (L12312) at (329,3103) {Sychonize};
\node[lb=ygold] (L12313) at (332,3148) {Volatile};
\node[lb=ygold,anchor=south east] (L12313p) at (318,3148) {保证可见性，禁止指令重排，但不保证原子性的使用};
\node[lb=ygold] (L13) at (418,3194) {Scala};
\node[lb=ygold,anchor=south east] (L13a) at (405,3186) {一行代码就可以代表java要写大概几行的业务代码。};
\node[lb=ygold,anchor=south east] (L13b) at (405,3198) {必须要有scala语言基础。};
\node[lb=ygold] (L14) at (417,3224) {Python};
\node[pp={ygold}{150pt}] (L14p) at (245,3220) {比如说 但是从使用上来看 我发现py和别人的相比 还是太当其 就比如java的 定义方法 定义函数 一样的道理 所以可以看};
\node[lb=ygold] (L15) at (417,3235) {Groovy};
\node[lb=ygold] (L16) at (421,3246) {Go};
\node[lb=ygold] (L17) at (443,3263) {数据处理};
\node[lb=ygold] (L171) at (412,3263) {TCL};
\node[pp={ygold}{150pt}] (L171p) at (240,3262) {我看那就好比说就是一种Msql写法在前提条件进行单的调度任务 进行每日的执行。};
\foreach \a/\b in {L/L1,L1/L11,L11/L111,L111/L1111,L1111/L1111a,L1111/L11111,L1111/L11112,L11112/L11112p,L1111/L1111b,L111/L1112,L1112/L1112a,L1112/L11121,L11121/L11121p,
  L1112/L11122,L11122/L11122p,L1112/L11123,L11123/L11123p,L111/L1113,L1113/L1113p,L111/L1114,L1114/L1114p,L111/L1115,L1115/L1115p,L111/L1116,L1116/L1116p,L111/L1117,L1117/L1117p,
  L111/L1118,L1118/L11181,L11181/L11181p,L111/L1119,L11/L112,L112/L1121,L1121/L1121p,L112/L1122,L1122/L1122p,L112/L1123,L1123/L1123p,L112/L1124,L1124/L1124p,
  L11/L113,L113/L113p,L11/L114,L114/L1141,L1141/L1141p,L114/L1142,L1142/L1142p,
  L/L12,L12/L121,L121/L1211,L1211/L1211p,L121/L1212,L121/L1213,L1213/L1213p,L12/L122,L122/L1221,L1221/L1221a,L1221/L1222,L1222/L1222p,L1221/L1223,L1221/L1224,L1221/L1225,
  L12/L123,L123/L1231,L1231/L12311,L1231/L12312,L1231/L12313,L12313/L12313p,
  L/L13,L13/L13a,L13/L13b,L/L14,L14/L14p,L/L15,L/L16,L/L17,L17/L171,L171/L171p}
  \draw[lc=ygold] (\a.south west) to (\b.south east);
\draw[lc=ygold] (Y.south west) to (L.south east);

% 面试题
\node[lb=ygold] (Z) at (510,3367) {模拟面试题};
\node[lb=ygold] (Z1) at (447,3278) {实时处理中进行分钟级以下的数据处理};
\node[lb=ygold] (Z2) at (467,3290) {实时双流多源join};
\node[lb=ygold] (Z3) at (437,3336) {不需要中央控制节点的情况下不同集群的设计与实现};
\node[pp={ygold}{135pt}] (Z3p) at (236,3335) {比如说某台服务器的 实时处理任务中进行回收服务器的概念，服务器资源不够了 就是如何处理好资源的调度 比如通过调度中心的管理 集群中的资源 让ResourceManager上分配多个组件 就是让 其他的组件 是一个组件，再 ResourceManager，是不是了一个调整也一可以理解为主节点? 是又上为主节点?};
\node[pp={ygold}{138pt}] (Z4) at (342,3354) {“在微服务和大数据混合架构下，如何统一身份认证（比如 Kerberos 与 JWT 的结合）”，延伸设计一下“数据服务一体化中的统一鉴权管理”};
\node[pp={ygold}{138pt}] (Z5) at (342,3371) {如何利用数据仓库和数据治理的基础上做模型的优化 SQL? 举例 为什么 InnoDB 推荐使用自增 ID 作为主键，而 UUID 会带来严重的性能问题?};
\node[pp={ygold}{138pt}] (Z6) at (342,3397) {请解释（SELECT ... FOR UPDATE）和悲观锁在实际业务中的区别是什么场景? 并解释 MVCC（多版本并发控制）是如何在不加锁的情况下实现读写并发的?};
\node[pp={ygold}{138pt}] (Z7) at (342,3423) {在高可用架构中个人如何的“脑裂”（Split-Brain）现象是如何产生的，又该如何预防? 结合 LVS 的双机热备和 Nginx 的心跳检测机制来说说你是怎么处理的?};
\foreach \b in {Z1,Z2,Z3,Z4,Z5,Z6,Z7} \draw[lc=ygold] (Z.south west) to (\b.south east);
\draw[lc=ygold] (Z3.south west) to (Z3p.south east);
\draw[lc=ygold] (C.west) to (Z.south east);

% 数据资产
\node[lb=lblue] (V) at (442,3456) {总结可以改为行业企业自身的实践（待整理）};
\node[lb=lblue] (V1) at (372,3456) {数据资产的核心};
\node[pp={lblue}{138pt}] (V1p) at (200,3455) {根据事件在数据全生命周期中的产生的一切变更操作，都可以在过去后进行回溯，对于资源的动态，对于因为发布不当导致的结果的数据的错误，比如回头去查看的细节来，来对比就更多的变更历史的问题操作，回滚，包括问题的影响从追踪到的变更操作的风险程度。};
\draw[lc=lblue] (V.south west) to (V1.south east);
\draw[lc=lblue] (V1.south west) to (V1p.south east);
\draw[lc=lblue] (C.west) to (V.south east);
\end{tikzpicture}
\end{document}
